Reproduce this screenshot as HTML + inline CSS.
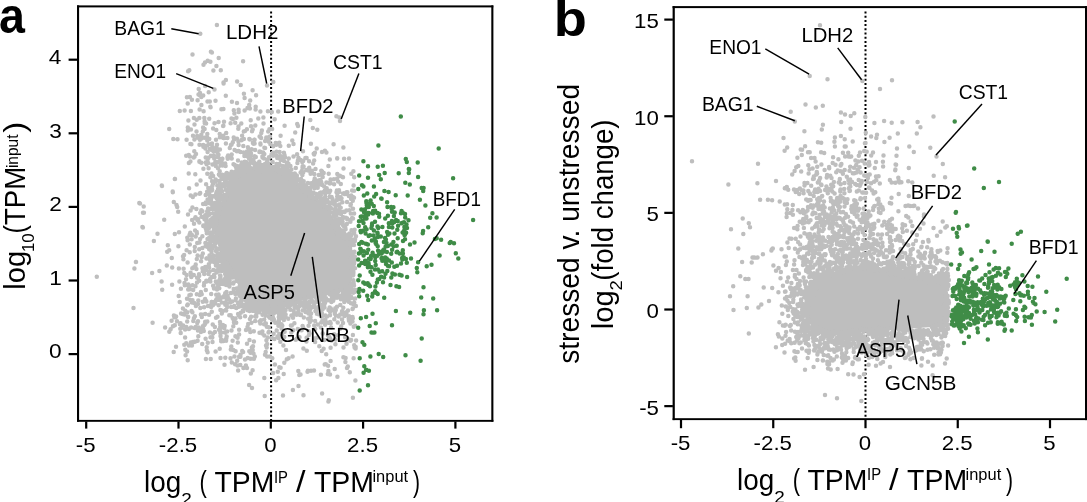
<!DOCTYPE html>
<html><head><meta charset="utf-8"><style>
html,body{margin:0;padding:0;background:#fff;}
svg{display:block;will-change:transform;}
text{font-family:"Liberation Sans", sans-serif;}
</style></head><body>
<svg width="1087" height="502" viewBox="0 0 1087 502">
<rect width="1087" height="502" fill="#fff"/>
<line x1="271.1" y1="11.5" x2="271.1" y2="420" stroke="#000" stroke-width="2" stroke-dasharray="2 2.2"/>
<line x1="865.5" y1="11.5" x2="865.5" y2="418" stroke="#000" stroke-width="2" stroke-dasharray="2 2.2"/>
<polygon points="213.0,230.0 215.0,217.0 219.0,205.0 225.0,195.0 229.0,182.0 235.0,175.0 250.0,167.0 264.0,169.0 274.0,165.0 282.0,171.0 296.0,181.0 306.0,191.0 318.0,199.0 328.0,207.0 333.0,218.0 338.0,232.0 352.0,240.0 352.0,280.0 350.0,289.0 342.0,291.0 330.0,294.0 310.0,299.0 290.0,303.0 280.0,308.0 266.0,308.0 254.0,303.0 246.0,296.0 239.0,286.0 229.0,271.0 221.0,255.0 217.0,242.0" fill="#bebebe"/>
<path d="M210.9 51.8h0M205.0 62.5h0M203.5 64.7h0M213.4 70.5h0M188.1 71.2h0M225.9 80.0h0M237.1 81.6h0M223.5 82.5h0M240.7 84.9h0M205.1 86.1h0M198.7 89.0h0M252.6 90.3h0M208.7 92.2h0M200.0 93.1h0M243.9 93.8h0M198.5 94.5h0M199.7 95.2h0M203.2 95.6h0M225.8 95.8h0M256.1 95.3h0M201.3 97.0h0M186.9 97.3h0M189.9 97.0h0M244.6 98.0h0M191.9 99.8h0M197.6 100.2h0M215.5 100.7h0M250.2 100.5h0M207.5 101.5h0M209.8 101.5h0M231.9 101.8h0M187.7 103.4h0M237.0 103.0h0M249.2 105.0h0M201.4 105.1h0M210.3 106.8h0M255.7 106.8h0M210.6 107.2h0M247.5 107.9h0M223.4 109.0h0M249.9 108.6h0M199.6 109.4h0M221.4 109.3h0M238.6 109.8h0M255.6 109.4h0M184.6 110.4h0M190.9 110.9h0M233.8 110.3h0M244.6 110.6h0M179.8 111.0h0M203.6 111.2h0M260.4 111.5h0M267.9 111.3h0M278.2 111.4h0M238.7 112.1h0M271.8 112.1h0M234.4 113.5h0M336.4 116.2h0M193.9 118.0h0M204.3 117.9h0M236.4 117.7h0M263.4 117.4h0M339.3 117.4h0M199.3 118.0h0M209.2 118.8h0M231.5 118.4h0M232.8 118.9h0M258.3 118.6h0M196.7 119.7h0M274.7 119.2h0M310.3 119.9h0M188.4 120.6h0M250.7 120.3h0M204.6 121.3h0M224.0 121.8h0M204.7 122.9h0M218.5 122.0h0M235.2 122.7h0M206.1 123.6h0M214.5 123.3h0M230.6 123.3h0M241.3 123.4h0M263.5 123.6h0M297.2 123.9h0M194.5 124.5h0M223.4 125.7h0M255.3 125.5h0M284.6 125.8h0M223.1 126.1h0M238.5 126.5h0M251.0 126.2h0M298.0 126.0h0M187.8 127.6h0M203.1 127.6h0M312.8 127.9h0M204.6 128.9h0M213.1 128.4h0M238.3 128.8h0M169.2 129.0h0M190.9 129.5h0M246.9 129.2h0M252.7 129.5h0M269.4 129.3h0M272.1 129.1h0M317.3 129.8h0M187.8 130.4h0M216.3 130.0h0M245.0 130.9h0M261.9 130.5h0M196.5 131.6h0M202.8 131.5h0M243.8 131.4h0M252.0 131.3h0M268.2 131.4h0M226.2 132.9h0M261.3 132.9h0M295.2 132.6h0M201.3 134.7h0M207.3 134.0h0M219.7 134.0h0M193.0 135.8h0M197.2 135.9h0M223.3 135.8h0M242.1 135.8h0M280.6 135.7h0M259.6 136.6h0M269.4 136.8h0M269.9 136.5h0M197.9 137.7h0M198.6 137.6h0M204.4 137.8h0M207.0 137.1h0M219.9 137.3h0M233.7 137.6h0M260.4 137.0h0M266.3 137.4h0M201.4 138.4h0M209.3 138.9h0M223.4 138.0h0M224.1 138.1h0M227.4 138.0h0M237.0 138.8h0M249.3 139.0h0M261.1 138.0h0M177.5 139.2h0M186.6 139.7h0M194.4 139.4h0M199.9 139.8h0M216.0 139.7h0M234.1 139.4h0M243.9 139.1h0M249.9 139.6h0M254.6 139.7h0M254.2 139.7h0M266.2 139.1h0M268.3 139.9h0M207.3 140.5h0M241.5 140.2h0M241.7 140.1h0M292.3 140.6h0M238.4 141.4h0M265.1 141.0h0M268.9 141.7h0M232.8 142.2h0M252.9 142.9h0M275.7 142.9h0M279.3 142.8h0M190.4 143.9h0M212.0 143.5h0M225.9 143.4h0M253.6 143.7h0M254.6 143.5h0M260.4 143.5h0M310.9 143.8h0M191.4 144.2h0M199.5 144.7h0M209.0 144.2h0M217.0 144.8h0M231.6 144.6h0M238.6 144.9h0M260.5 144.4h0M270.4 144.3h0M276.3 144.7h0M293.5 144.1h0M333.6 144.3h0M203.2 145.1h0M207.1 145.5h0M230.9 145.0h0M280.3 146.0h0M288.8 145.8h0M203.4 146.7h0M204.4 146.4h0M212.5 146.9h0M243.3 146.1h0M273.2 146.3h0M216.5 147.4h0M229.8 147.9h0M247.9 147.3h0M264.4 147.8h0M265.1 147.9h0M343.4 147.4h0M205.4 148.6h0M213.2 148.5h0M316.7 148.4h0M210.0 149.1h0M219.9 149.4h0M234.6 150.0h0M251.6 149.2h0M255.1 149.9h0M211.8 150.1h0M214.4 150.8h0M217.4 150.4h0M250.3 150.7h0M324.9 150.7h0M194.3 151.2h0M213.6 151.5h0M236.9 151.2h0M238.5 151.0h0M240.5 151.9h0M247.0 151.5h0M259.7 151.6h0M260.5 151.8h0M276.6 151.8h0M279.6 151.9h0M303.0 151.3h0M322.0 152.0h0M207.6 152.1h0M217.5 152.6h0M243.7 152.6h0M259.4 152.1h0M263.1 152.6h0M273.7 152.7h0M283.9 152.8h0M314.9 152.8h0M326.4 152.5h0M251.0 153.3h0M264.3 153.9h0M272.5 153.0h0M313.7 153.8h0M196.0 154.1h0M218.2 154.7h0M218.5 154.7h0M231.7 154.6h0M247.4 155.0h0M250.7 154.2h0M271.5 154.5h0M284.5 154.9h0M297.1 154.2h0M314.2 154.6h0M186.2 155.7h0M188.8 155.1h0M210.9 155.8h0M213.9 155.7h0M228.1 155.4h0M244.4 155.9h0M273.2 155.8h0M276.9 155.9h0M280.2 155.9h0M189.9 156.6h0M194.6 156.6h0M212.7 156.2h0M218.1 156.2h0M227.5 157.0h0M247.1 156.3h0M254.6 156.3h0M262.4 156.2h0M262.8 156.4h0M278.0 156.7h0M281.6 156.7h0M281.0 156.8h0M293.5 156.6h0M193.7 157.5h0M205.7 157.4h0M208.5 157.8h0M218.2 157.3h0M229.0 157.2h0M250.5 157.0h0M255.8 157.1h0M262.5 157.5h0M269.0 157.3h0M277.3 158.0h0M281.7 158.0h0M285.1 157.3h0M298.4 157.7h0M305.4 157.9h0M306.6 157.9h0M214.2 158.5h0M222.4 158.7h0M222.2 158.7h0M227.7 158.7h0M231.7 158.6h0M249.0 158.6h0M249.2 158.1h0M264.0 158.4h0M268.5 158.7h0M282.2 158.6h0M283.1 158.5h0M288.8 158.6h0M337.2 158.5h0M337.2 158.2h0M344.1 158.8h0M349.0 158.5h0M207.7 159.3h0M220.4 159.6h0M267.5 159.4h0M300.7 159.9h0M329.8 159.4h0M221.7 160.3h0M238.0 160.6h0M250.9 160.4h0M253.4 160.1h0M253.3 160.4h0M253.2 160.3h0M280.6 160.0h0M297.9 160.6h0M314.2 160.6h0M190.4 161.5h0M199.4 161.8h0M199.4 161.3h0M215.4 161.7h0M221.1 161.2h0M244.8 161.8h0M259.3 161.7h0M267.2 161.6h0M272.6 161.9h0M284.0 161.1h0M302.2 161.9h0M303.2 161.1h0M309.1 161.2h0M201.3 162.7h0M205.7 162.4h0M208.3 162.9h0M217.5 162.3h0M221.6 162.4h0M241.9 162.6h0M246.7 162.5h0M246.8 162.6h0M253.2 163.0h0M254.2 162.9h0M287.4 162.5h0M188.9 163.1h0M215.9 163.4h0M225.2 163.4h0M247.1 163.9h0M247.9 163.8h0M256.1 163.7h0M265.2 163.8h0M268.2 163.6h0M276.6 163.9h0M279.4 163.9h0M288.5 163.8h0M297.4 163.0h0M313.1 163.6h0M206.6 164.2h0M212.5 164.4h0M222.8 164.6h0M233.5 164.3h0M234.7 165.0h0M249.4 164.3h0M260.7 164.7h0M264.1 164.7h0M277.8 164.5h0M278.9 164.5h0M286.6 164.8h0M220.5 165.6h0M222.5 165.4h0M225.6 166.0h0M241.1 165.1h0M241.3 165.1h0M244.4 165.3h0M256.2 165.5h0M258.0 165.8h0M261.4 165.8h0M265.6 165.4h0M278.6 165.7h0M282.6 165.9h0M290.4 165.9h0M328.4 165.9h0M215.8 166.1h0M235.8 166.7h0M237.1 166.1h0M239.5 167.0h0M240.2 166.1h0M244.5 166.4h0M248.0 166.1h0M254.6 166.4h0M254.6 166.3h0M258.0 166.6h0M258.2 166.2h0M266.2 166.2h0M269.1 166.3h0M270.6 166.8h0M273.9 166.9h0M286.7 166.8h0M290.4 166.2h0M302.6 166.2h0M303.6 166.4h0M236.3 168.0h0M244.3 167.8h0M244.6 167.7h0M254.4 167.4h0M257.4 167.7h0M258.4 167.3h0M265.4 167.7h0M266.9 167.2h0M267.0 167.9h0M272.6 167.6h0M276.0 167.8h0M278.1 167.4h0M285.1 167.4h0M295.8 168.0h0M302.5 167.7h0M309.2 167.8h0M203.4 168.7h0M208.6 168.2h0M218.0 168.2h0M238.3 169.0h0M241.8 168.6h0M246.0 168.7h0M247.1 168.2h0M250.1 169.0h0M250.3 168.0h0M255.6 169.0h0M262.1 168.6h0M265.4 168.3h0M268.0 168.8h0M277.4 168.3h0M284.8 168.8h0M287.1 168.8h0M343.5 168.4h0M239.8 169.3h0M240.1 169.1h0M259.6 169.4h0M259.9 169.3h0M260.7 170.0h0M266.7 169.6h0M268.3 169.5h0M271.3 169.4h0M276.5 169.3h0M276.0 169.9h0M276.7 169.7h0M278.1 169.7h0M278.0 169.3h0M281.8 169.2h0M286.1 169.1h0M291.4 169.6h0M306.4 169.9h0M315.5 169.1h0M240.0 170.3h0M241.4 170.8h0M243.7 170.5h0M244.7 170.7h0M246.1 170.5h0M247.7 170.5h0M247.6 170.3h0M261.3 170.5h0M261.1 170.7h0M261.9 171.0h0M262.1 170.8h0M268.4 170.6h0M281.2 170.2h0M286.3 170.8h0M308.3 170.6h0M311.9 170.7h0M321.3 170.7h0M219.7 171.2h0M231.6 171.8h0M235.7 171.4h0M237.2 171.8h0M246.8 171.6h0M246.2 171.3h0M259.3 171.0h0M265.5 171.9h0M265.1 172.0h0M265.8 171.2h0M283.5 171.0h0M288.7 171.2h0M288.6 171.2h0M289.1 171.1h0M301.7 171.1h0M322.2 171.6h0M353.4 171.2h0M226.8 172.9h0M234.5 172.2h0M238.9 172.4h0M239.6 172.2h0M280.0 172.8h0M287.0 172.4h0M300.6 172.6h0M301.9 172.5h0M303.3 172.2h0M188.7 173.6h0M207.3 173.7h0M211.5 173.4h0M226.3 173.4h0M228.0 173.9h0M231.6 173.3h0M285.6 173.9h0M290.3 173.6h0M291.1 173.6h0M294.8 173.5h0M310.6 173.8h0M314.3 174.0h0M323.7 173.0h0M328.7 173.7h0M351.3 173.8h0M195.3 174.2h0M218.9 174.6h0M222.3 174.8h0M228.3 174.8h0M230.2 174.4h0M234.4 174.2h0M236.5 174.6h0M241.0 174.8h0M241.7 174.4h0M283.9 174.7h0M284.8 174.8h0M288.9 174.6h0M295.5 174.4h0M302.3 175.0h0M302.4 174.9h0M318.8 174.9h0M321.5 174.6h0M337.3 174.1h0M213.1 176.0h0M219.8 175.5h0M225.8 175.1h0M232.1 175.6h0M295.8 175.4h0M296.9 175.7h0M339.9 175.7h0M227.2 176.1h0M230.5 176.4h0M231.7 176.5h0M235.8 176.6h0M236.3 177.0h0M238.3 176.3h0M286.8 176.8h0M290.5 176.5h0M292.7 176.6h0M322.7 177.0h0M210.4 177.2h0M221.5 177.4h0M224.8 177.8h0M226.5 177.9h0M235.0 178.0h0M288.9 177.0h0M288.6 177.2h0M292.9 177.0h0M294.1 178.0h0M342.5 177.1h0M343.0 177.3h0M354.2 177.3h0M222.1 178.7h0M224.4 178.7h0M229.7 179.0h0M230.4 178.8h0M233.3 178.7h0M289.8 178.9h0M293.4 179.0h0M294.8 178.6h0M314.7 178.4h0M337.2 178.4h0M215.7 179.6h0M225.9 179.9h0M230.6 179.9h0M230.4 179.0h0M232.4 179.2h0M234.8 179.7h0M298.9 179.5h0M301.1 179.1h0M301.3 179.8h0M320.4 180.0h0M330.6 179.5h0M333.9 179.3h0M200.5 180.5h0M219.3 181.0h0M225.1 180.4h0M232.0 180.8h0M291.9 180.7h0M292.6 180.4h0M297.3 180.1h0M300.5 180.7h0M314.1 180.9h0M318.5 180.5h0M212.1 181.2h0M213.6 181.4h0M215.4 181.5h0M219.5 181.8h0M219.5 181.8h0M233.9 181.1h0M303.7 181.3h0M315.2 181.4h0M321.0 181.5h0M338.1 181.4h0M224.7 182.7h0M226.8 182.7h0M226.4 182.9h0M229.0 182.7h0M231.0 182.1h0M232.9 182.9h0M295.2 182.8h0M296.4 182.9h0M301.1 182.8h0M301.6 182.2h0M321.3 182.3h0M326.4 182.4h0M329.1 182.8h0M213.0 184.0h0M226.1 183.8h0M229.0 183.9h0M303.5 183.6h0M307.9 183.1h0M312.0 183.8h0M311.2 183.3h0M318.7 183.2h0M329.9 183.5h0M330.5 183.1h0M340.8 184.0h0M196.7 184.5h0M206.1 184.3h0M219.7 184.6h0M222.4 184.6h0M224.2 184.8h0M228.1 184.2h0M229.1 184.5h0M230.5 184.8h0M298.1 184.5h0M298.8 185.0h0M318.3 184.9h0M321.8 184.8h0M322.3 184.9h0M334.1 184.2h0M212.4 185.8h0M217.3 185.5h0M219.0 185.5h0M225.7 185.0h0M305.5 185.8h0M311.8 186.0h0M315.5 185.1h0M353.6 185.6h0M224.4 186.4h0M229.2 186.4h0M230.2 186.8h0M300.8 186.9h0M301.6 186.9h0M324.2 186.4h0M208.3 188.0h0M211.7 187.6h0M220.0 187.7h0M221.1 187.1h0M307.7 187.8h0M310.4 187.6h0M317.7 187.7h0M189.1 188.3h0M208.8 188.3h0M220.3 188.5h0M228.6 188.6h0M302.4 188.7h0M304.2 188.1h0M309.3 188.3h0M314.5 188.3h0M326.7 188.2h0M212.1 189.4h0M217.9 189.5h0M225.6 189.8h0M227.0 189.4h0M226.7 189.4h0M303.1 189.6h0M304.8 189.1h0M304.2 189.0h0M310.1 189.3h0M211.9 190.6h0M221.2 190.4h0M304.0 190.3h0M305.5 190.8h0M324.7 190.7h0M330.2 190.8h0M336.9 190.4h0M339.0 190.3h0M352.1 190.6h0M354.0 190.8h0M207.1 191.7h0M209.3 191.9h0M216.6 191.9h0M221.0 191.5h0M222.0 191.8h0M227.8 191.4h0M227.5 191.9h0M304.4 191.4h0M308.6 191.7h0M310.7 192.0h0M327.5 191.9h0M328.5 191.8h0M339.2 191.9h0M208.3 192.2h0M216.4 192.5h0M220.3 192.2h0M313.6 192.7h0M320.1 192.7h0M320.9 192.5h0M322.4 192.5h0M329.3 192.5h0M336.5 192.2h0M346.6 192.3h0M347.4 192.3h0M199.6 193.7h0M200.2 193.1h0M216.2 193.8h0M308.2 193.4h0M325.2 193.6h0M337.3 193.7h0M343.1 193.6h0M343.9 193.2h0M344.6 193.9h0M345.1 193.9h0M195.4 194.5h0M217.0 194.4h0M227.6 194.5h0M312.1 194.8h0M316.3 194.1h0M317.2 194.9h0M190.7 195.5h0M205.7 195.1h0M209.8 195.2h0M214.4 195.9h0M220.9 195.1h0M224.7 195.0h0M309.5 195.5h0M310.6 195.0h0M310.1 195.2h0M311.8 196.0h0M316.4 196.0h0M320.5 195.3h0M320.8 195.3h0M348.8 195.9h0M351.3 195.5h0M212.3 196.3h0M213.8 196.5h0M218.7 196.7h0M221.3 196.0h0M224.5 196.5h0M226.1 196.8h0M325.2 196.7h0M329.7 196.7h0M337.2 196.6h0M192.8 197.1h0M210.2 197.3h0M220.9 197.4h0M223.2 198.0h0M225.7 197.2h0M312.4 197.6h0M316.8 197.0h0M318.9 197.3h0M331.6 197.1h0M338.6 197.2h0M340.5 197.3h0M353.4 197.3h0M354.0 197.8h0M216.6 198.2h0M218.4 198.7h0M219.4 198.6h0M220.0 198.0h0M315.8 198.5h0M320.2 198.5h0M324.0 198.5h0M341.5 198.3h0M351.1 199.0h0M207.6 199.4h0M209.6 200.0h0M209.9 199.6h0M220.7 199.0h0M320.5 199.2h0M332.5 199.1h0M339.1 199.3h0M209.2 200.9h0M211.1 200.0h0M217.5 200.1h0M224.0 200.8h0M320.1 200.4h0M327.4 200.3h0M336.8 200.1h0M352.8 200.8h0M209.7 201.4h0M218.4 201.9h0M219.2 201.3h0M224.1 201.0h0M323.4 201.9h0M332.7 201.2h0M347.0 202.0h0M205.8 202.6h0M214.6 202.9h0M219.5 202.2h0M319.0 202.2h0M322.7 202.2h0M325.1 202.5h0M328.8 202.2h0M329.2 202.7h0M333.6 202.8h0M334.7 203.0h0M342.4 202.2h0M205.8 203.9h0M209.7 203.2h0M211.5 203.9h0M211.8 203.6h0M218.1 203.3h0M322.4 203.9h0M333.4 203.8h0M333.6 203.6h0M203.1 204.1h0M213.0 204.4h0M217.1 204.5h0M218.4 204.3h0M221.5 204.2h0M222.4 204.7h0M329.4 204.9h0M339.2 204.6h0M350.8 204.2h0M212.1 205.5h0M213.1 205.7h0M216.6 205.3h0M220.3 205.0h0M324.2 205.0h0M336.2 205.6h0M350.5 205.6h0M219.8 207.0h0M324.5 206.4h0M325.4 206.3h0M328.7 206.9h0M328.8 206.6h0M335.6 206.6h0M192.4 207.4h0M326.9 207.7h0M328.0 207.5h0M330.9 208.0h0M340.7 207.7h0M208.1 208.6h0M208.9 208.9h0M213.5 208.7h0M215.4 208.9h0M215.0 208.9h0M218.0 208.3h0M220.9 208.1h0M327.1 208.6h0M339.9 208.1h0M353.0 208.8h0M196.4 209.1h0M210.3 209.1h0M212.6 209.0h0M330.0 209.1h0M334.7 209.2h0M334.2 209.4h0M190.6 210.6h0M201.3 210.2h0M216.6 210.3h0M337.1 210.2h0M346.4 210.6h0M349.3 210.2h0M202.4 211.3h0M207.2 211.3h0M218.4 211.8h0M219.8 211.7h0M329.8 211.8h0M340.5 211.8h0M343.8 211.7h0M344.6 211.9h0M207.3 213.0h0M208.3 212.2h0M215.1 213.0h0M329.4 212.7h0M330.7 212.4h0M334.5 212.5h0M337.9 212.5h0M337.7 212.6h0M200.2 213.1h0M209.7 213.8h0M213.1 213.3h0M214.9 213.6h0M216.9 213.5h0M218.6 213.8h0M334.1 213.3h0M337.2 213.6h0M340.9 213.9h0M341.1 213.8h0M350.8 213.6h0M354.1 213.4h0M188.0 214.5h0M206.5 214.6h0M208.8 214.8h0M209.2 214.8h0M214.4 214.6h0M215.3 214.6h0M217.8 214.6h0M205.2 215.2h0M218.0 215.6h0M218.0 215.5h0M218.3 215.4h0M336.4 215.6h0M201.6 216.7h0M215.2 216.5h0M333.6 216.2h0M195.5 217.3h0M206.7 217.1h0M213.2 217.7h0M216.9 217.8h0M342.9 217.0h0M345.9 217.8h0M352.1 218.0h0M195.1 218.3h0M212.9 218.0h0M214.7 218.5h0M214.9 218.2h0M215.1 218.7h0M215.8 218.5h0M339.2 218.8h0M347.2 218.4h0M353.0 218.4h0M164.2 219.7h0M198.1 219.3h0M204.5 219.2h0M211.3 219.3h0M334.7 219.4h0M335.2 219.4h0M336.5 219.8h0M342.2 219.5h0M347.2 219.2h0M192.1 220.1h0M197.5 220.2h0M206.4 220.6h0M210.5 220.1h0M212.5 220.7h0M334.9 220.1h0M350.3 220.3h0M210.9 221.4h0M216.0 221.2h0M332.2 221.7h0M335.4 221.1h0M337.8 221.5h0M340.6 222.0h0M342.6 221.9h0M350.4 221.7h0M199.3 222.4h0M206.4 222.1h0M207.0 222.9h0M216.0 222.1h0M332.0 223.0h0M335.5 222.6h0M336.7 223.0h0M340.3 222.7h0M194.0 223.8h0M210.6 223.6h0M211.3 223.7h0M215.5 223.4h0M215.5 223.5h0M336.4 223.9h0M207.5 224.3h0M214.3 224.4h0M216.5 224.6h0M333.4 224.2h0M342.9 224.9h0M343.4 224.9h0M346.8 224.1h0M203.3 225.4h0M205.6 225.0h0M212.2 225.1h0M335.0 225.3h0M338.2 225.8h0M343.7 225.9h0M345.2 225.4h0M184.8 226.4h0M203.3 226.0h0M206.5 226.8h0M210.9 226.2h0M214.8 227.0h0M208.6 227.9h0M209.4 227.5h0M334.8 227.5h0M345.3 227.2h0M205.8 228.4h0M208.7 228.6h0M336.5 228.2h0M339.3 228.7h0M213.9 229.6h0M345.6 229.3h0M354.6 229.7h0M195.1 230.6h0M206.3 230.6h0M337.1 230.3h0M338.0 230.5h0M340.7 230.8h0M341.6 230.5h0M342.8 230.6h0M342.5 230.9h0M351.5 230.2h0M196.7 231.9h0M340.4 231.3h0M190.3 232.7h0M208.6 232.9h0M211.0 232.5h0M213.7 232.2h0M339.7 232.3h0M340.6 232.5h0M340.9 232.7h0M340.1 232.7h0M344.0 232.9h0M354.2 232.9h0M196.9 233.4h0M206.8 233.3h0M337.1 233.3h0M342.4 233.6h0M349.6 233.5h0M189.6 234.7h0M339.3 234.3h0M348.1 234.6h0M351.3 234.8h0M191.9 235.1h0M340.6 235.7h0M346.9 235.7h0M351.4 235.1h0M195.7 236.4h0M202.4 236.2h0M210.8 236.3h0M213.0 236.1h0M344.0 236.1h0M346.4 236.9h0M356.0 236.3h0M187.3 237.7h0M209.2 237.8h0M214.6 237.4h0M214.1 237.1h0M214.4 237.5h0M342.0 237.5h0M345.2 237.5h0M346.3 237.3h0M346.9 237.6h0M349.2 237.7h0M207.5 238.9h0M211.6 238.4h0M217.3 238.5h0M345.5 238.2h0M348.1 238.4h0M350.1 238.6h0M355.1 239.0h0M191.6 239.2h0M200.1 239.1h0M208.4 239.5h0M212.1 239.3h0M351.3 239.3h0M187.6 240.2h0M216.9 240.6h0M218.7 240.7h0M351.5 240.4h0M353.5 240.2h0M212.1 241.2h0M215.9 241.2h0M219.5 242.0h0M351.8 241.9h0M354.9 241.0h0M197.2 242.9h0M199.4 242.6h0M210.3 242.7h0M210.5 242.4h0M210.5 242.6h0M351.5 242.3h0M205.4 243.1h0M210.6 243.2h0M215.6 243.2h0M219.9 243.5h0M352.6 243.2h0M353.2 243.3h0M353.0 243.9h0M189.8 244.6h0M208.5 244.0h0M210.2 244.7h0M214.9 244.6h0M350.9 244.6h0M354.0 244.9h0M205.6 246.0h0M207.4 245.6h0M210.7 245.0h0M350.6 245.7h0M207.0 246.7h0M209.8 246.4h0M214.5 246.3h0M194.8 247.1h0M202.4 248.1h0M212.0 248.7h0M212.4 248.5h0M216.9 248.6h0M218.7 248.9h0M218.5 248.9h0M221.7 248.8h0M350.1 248.9h0M199.2 249.3h0M209.2 249.2h0M169.2 250.2h0M186.6 250.2h0M194.7 250.9h0M211.5 251.7h0M216.0 251.1h0M350.7 251.5h0M354.4 251.7h0M189.7 252.2h0M222.2 252.5h0M354.0 252.3h0M202.8 253.5h0M217.5 253.6h0M219.8 253.5h0M220.8 253.7h0M221.9 253.3h0M350.7 253.3h0M217.5 254.3h0M218.5 254.3h0M184.1 255.1h0M197.6 255.6h0M209.5 255.6h0M213.3 255.4h0M351.1 255.3h0M183.0 256.3h0M201.8 256.1h0M217.1 256.8h0M351.8 256.1h0M351.8 256.8h0M353.2 256.6h0M354.8 256.6h0M171.8 258.0h0M201.7 257.3h0M209.3 257.2h0M209.6 257.3h0M212.9 257.6h0M219.5 257.2h0M220.2 257.0h0M222.5 257.3h0M351.5 257.3h0M206.6 258.6h0M206.4 258.6h0M209.9 258.4h0M217.9 258.8h0M220.0 258.4h0M352.2 258.5h0M352.0 258.5h0M183.4 259.3h0M196.8 259.1h0M209.7 259.7h0M214.0 259.8h0M350.4 259.0h0M354.6 259.9h0M220.5 260.7h0M221.9 260.7h0M222.6 260.2h0M201.1 261.3h0M210.7 261.7h0M217.5 261.2h0M218.8 261.1h0M353.7 262.0h0M187.6 262.6h0M214.3 262.3h0M215.8 262.3h0M217.1 262.3h0M224.2 262.2h0M225.9 262.2h0M226.1 262.2h0M354.2 262.0h0M354.1 263.4h0M195.7 264.4h0M208.8 264.2h0M223.7 264.2h0M227.1 264.1h0M208.7 265.5h0M215.9 265.6h0M219.4 265.8h0M222.2 265.1h0M227.0 265.3h0M351.6 265.6h0M353.3 265.7h0M195.3 266.4h0M222.1 266.2h0M225.8 266.0h0M226.9 266.8h0M226.5 266.2h0M226.5 266.3h0M228.8 266.9h0M193.3 267.6h0M205.2 267.0h0M209.1 267.5h0M220.0 267.6h0M227.4 267.7h0M178.9 268.4h0M183.6 268.7h0M192.3 268.2h0M202.4 268.2h0M225.8 268.1h0M225.1 268.6h0M227.9 268.5h0M227.9 268.7h0M229.7 268.5h0M352.6 268.8h0M355.0 268.2h0M196.4 269.1h0M213.3 269.9h0M218.2 269.3h0M223.2 269.7h0M224.5 269.7h0M230.4 269.8h0M205.9 270.3h0M216.5 270.4h0M221.6 271.0h0M221.7 270.4h0M228.8 270.7h0M352.3 270.1h0M159.4 271.1h0M202.7 271.2h0M209.6 271.6h0M218.1 271.2h0M226.7 271.6h0M231.9 271.9h0M231.2 271.4h0M351.3 271.4h0M353.4 272.0h0M184.3 273.0h0M190.6 272.7h0M216.5 272.5h0M231.4 272.5h0M231.7 273.0h0M152.1 273.0h0M233.9 273.4h0M351.2 273.6h0M351.5 273.9h0M353.4 273.1h0M199.0 274.3h0M204.2 274.1h0M208.5 274.0h0M225.1 274.1h0M229.0 274.9h0M231.0 274.8h0M351.7 274.5h0M186.6 275.0h0M191.0 276.0h0M193.8 275.1h0M199.2 275.8h0M214.0 275.0h0M220.5 275.9h0M220.1 275.4h0M226.5 275.7h0M226.5 275.8h0M229.2 275.8h0M234.7 275.8h0M352.8 275.6h0M353.3 275.1h0M191.3 276.9h0M226.1 276.8h0M232.1 276.8h0M197.1 277.7h0M197.7 277.4h0M198.2 277.6h0M211.9 277.0h0M214.4 277.1h0M220.4 277.6h0M227.9 278.0h0M228.7 277.1h0M232.8 277.5h0M210.7 278.2h0M225.2 278.2h0M226.7 278.9h0M186.0 279.3h0M209.9 279.3h0M219.9 279.0h0M220.9 279.7h0M224.8 279.5h0M199.2 280.7h0M206.3 280.7h0M219.2 280.7h0M226.1 280.2h0M229.6 280.6h0M236.6 280.7h0M353.3 280.3h0M161.6 281.4h0M179.4 281.6h0M206.6 281.5h0M210.4 281.5h0M215.8 281.6h0M224.7 281.4h0M197.0 282.4h0M204.2 282.9h0M216.4 282.8h0M218.4 282.1h0M220.9 282.8h0M227.5 283.0h0M228.6 282.5h0M233.7 282.5h0M353.6 282.0h0M184.5 283.0h0M220.6 283.6h0M221.2 283.7h0M223.2 284.0h0M226.9 283.0h0M229.9 283.8h0M233.3 283.4h0M353.7 283.7h0M172.1 284.7h0M188.4 284.5h0M226.1 285.0h0M228.2 284.5h0M351.1 284.3h0M184.8 285.3h0M188.5 285.5h0M189.5 286.0h0M192.6 285.2h0M203.9 285.6h0M213.1 285.7h0M218.2 285.8h0M239.7 286.0h0M353.1 285.4h0M354.0 285.6h0M195.5 286.2h0M217.4 286.9h0M229.4 286.5h0M241.7 286.2h0M239.8 287.1h0M240.2 287.5h0M180.9 288.8h0M214.0 288.4h0M216.2 288.6h0M219.3 288.2h0M236.7 288.4h0M238.3 288.7h0M347.5 288.8h0M350.7 288.1h0M162.2 289.7h0M188.2 289.6h0M189.9 289.3h0M193.2 290.0h0M217.0 289.5h0M233.7 289.0h0M240.1 289.9h0M341.0 289.2h0M352.1 289.9h0M354.4 290.0h0M355.8 289.9h0M205.8 290.0h0M237.6 290.2h0M243.4 290.9h0M337.2 290.2h0M348.2 290.6h0M350.4 290.3h0M350.8 290.9h0M351.3 290.4h0M351.2 290.4h0M200.9 292.0h0M237.6 291.4h0M238.2 291.1h0M241.5 291.4h0M334.8 291.4h0M338.2 291.3h0M342.5 291.4h0M344.9 291.8h0M347.5 292.0h0M351.7 291.4h0M226.5 292.0h0M232.9 292.5h0M234.2 292.8h0M238.6 292.2h0M240.9 292.2h0M244.9 292.9h0M328.0 292.7h0M333.3 292.1h0M337.6 292.4h0M345.3 292.1h0M353.2 292.8h0M354.6 292.1h0M211.2 293.9h0M225.2 293.2h0M230.9 293.1h0M325.5 293.8h0M325.4 293.7h0M328.6 293.3h0M330.2 293.6h0M334.4 293.0h0M335.5 293.0h0M336.7 293.5h0M344.3 293.5h0M190.8 294.8h0M196.8 294.2h0M199.8 294.9h0M201.7 294.2h0M216.2 294.7h0M218.6 294.5h0M235.4 294.0h0M239.1 294.3h0M241.7 294.8h0M242.2 294.4h0M243.5 294.2h0M243.9 294.1h0M243.8 294.3h0M319.7 294.1h0M321.4 294.8h0M322.5 294.4h0M329.8 294.2h0M329.9 294.6h0M342.4 294.9h0M345.5 294.7h0M349.4 295.0h0M178.7 296.0h0M189.4 295.3h0M225.5 295.3h0M227.6 295.8h0M239.5 295.3h0M240.3 295.0h0M244.0 295.7h0M321.2 295.4h0M324.7 295.6h0M332.1 295.1h0M335.9 295.3h0M338.8 295.5h0M224.1 296.1h0M240.2 296.6h0M241.4 296.2h0M249.9 296.6h0M315.1 296.5h0M316.4 296.7h0M316.1 296.4h0M319.6 296.7h0M320.2 296.3h0M323.9 296.7h0M334.6 296.7h0M341.5 296.9h0M346.1 296.6h0M217.6 297.6h0M221.4 297.6h0M223.1 297.3h0M228.0 297.7h0M243.1 297.4h0M245.6 297.4h0M250.7 297.5h0M308.5 297.2h0M332.0 297.8h0M332.7 297.8h0M337.0 297.7h0M341.7 297.8h0M349.8 297.4h0M350.4 297.3h0M351.3 297.1h0M187.0 298.7h0M205.1 299.0h0M220.3 298.8h0M226.7 298.9h0M235.9 298.4h0M242.3 298.7h0M243.4 298.6h0M246.8 298.8h0M304.6 298.8h0M305.4 298.9h0M316.3 298.4h0M321.7 298.5h0M321.5 298.8h0M326.0 298.3h0M342.8 298.3h0M345.2 298.9h0M350.6 298.2h0M354.4 298.8h0M355.2 298.6h0M190.3 300.0h0M216.5 299.2h0M219.2 299.7h0M229.2 299.5h0M243.9 299.5h0M248.4 299.9h0M248.3 299.7h0M299.0 299.8h0M298.2 299.2h0M298.8 299.8h0M305.4 299.6h0M311.7 299.9h0M317.9 299.6h0M325.7 299.5h0M333.4 299.8h0M340.9 299.3h0M192.5 300.2h0M198.3 300.6h0M206.1 301.0h0M215.8 300.5h0M217.1 300.1h0M235.6 300.2h0M241.6 300.1h0M246.0 300.8h0M248.1 300.1h0M248.2 300.5h0M291.3 300.4h0M292.3 300.5h0M299.7 300.8h0M325.6 300.6h0M328.8 300.3h0M333.2 300.7h0M333.2 300.2h0M348.1 300.1h0M202.8 301.7h0M206.4 301.5h0M211.9 301.9h0M232.2 301.5h0M240.4 301.3h0M241.3 301.2h0M249.9 301.5h0M253.0 301.5h0M253.2 301.4h0M254.2 301.6h0M303.8 301.9h0M309.4 301.8h0M310.5 301.8h0M312.3 301.5h0M317.2 301.8h0M319.2 301.5h0M323.8 301.2h0M325.1 301.0h0M331.4 301.9h0M348.7 301.7h0M179.7 302.1h0M191.9 302.4h0M194.2 303.0h0M211.6 302.1h0M214.2 302.1h0M221.9 302.6h0M225.7 302.3h0M230.2 302.4h0M246.7 302.4h0M247.4 302.9h0M250.6 302.9h0M253.7 302.8h0M255.8 302.3h0M292.8 302.4h0M296.8 302.5h0M299.7 302.4h0M300.1 302.9h0M300.2 302.6h0M308.6 302.8h0M314.3 302.4h0M319.3 302.1h0M325.2 302.6h0M344.3 302.1h0M354.3 302.7h0M211.5 303.7h0M215.2 303.6h0M226.9 303.8h0M238.1 303.4h0M238.9 303.1h0M249.1 303.7h0M252.2 303.2h0M254.4 303.5h0M257.2 303.8h0M257.0 304.0h0M285.7 303.1h0M307.3 303.4h0M308.7 303.6h0M309.6 303.5h0M314.4 303.4h0M324.7 303.7h0M350.9 303.2h0M353.2 303.9h0M187.8 304.6h0M198.0 304.1h0M225.3 304.8h0M240.4 304.0h0M241.6 304.3h0M246.9 304.1h0M254.2 304.8h0M254.8 304.2h0M258.7 304.6h0M259.1 304.3h0M259.4 304.4h0M262.6 304.9h0M263.9 304.3h0M285.6 304.6h0M286.1 304.5h0M288.6 304.2h0M291.4 304.7h0M293.5 304.8h0M301.7 304.6h0M302.7 304.2h0M314.2 304.4h0M340.3 304.9h0M187.2 305.3h0M195.9 306.0h0M212.9 305.2h0M218.6 305.2h0M243.7 305.0h0M247.0 305.1h0M246.9 305.1h0M248.2 305.0h0M258.7 305.2h0M258.1 305.2h0M263.0 305.1h0M263.4 305.1h0M264.0 305.4h0M289.9 305.7h0M295.4 305.3h0M303.2 305.4h0M304.9 306.0h0M309.2 305.5h0M321.3 305.1h0M355.9 305.9h0M208.0 306.1h0M231.1 307.0h0M234.3 306.0h0M238.9 306.7h0M241.0 306.0h0M244.8 306.2h0M250.7 306.6h0M250.1 306.4h0M253.8 306.9h0M255.3 306.3h0M260.0 306.3h0M259.6 306.6h0M266.0 306.3h0M267.5 306.2h0M279.3 306.7h0M281.0 306.7h0M287.3 306.2h0M289.4 306.9h0M295.5 306.4h0M299.6 306.1h0M303.6 306.1h0M307.6 306.3h0M318.8 306.7h0M318.3 306.7h0M319.2 306.8h0M322.9 306.7h0M323.9 306.5h0M337.0 306.7h0M200.3 307.9h0M204.1 307.2h0M211.1 307.1h0M227.2 307.1h0M234.3 307.1h0M236.3 308.0h0M244.2 307.2h0M253.7 307.3h0M255.1 308.0h0M261.7 307.3h0M265.7 307.6h0M268.1 307.1h0M273.6 307.7h0M282.5 307.2h0M283.1 307.1h0M288.9 307.1h0M294.6 307.7h0M305.2 307.0h0M309.7 307.1h0M312.2 307.1h0M319.8 307.5h0M323.5 307.4h0M323.1 307.1h0M324.5 307.4h0M329.6 307.4h0M343.3 307.8h0M182.9 308.5h0M246.8 308.6h0M257.7 308.1h0M263.1 308.6h0M268.8 308.3h0M272.9 308.4h0M274.2 308.5h0M276.1 308.2h0M279.6 308.9h0M281.2 308.9h0M298.2 308.8h0M304.9 308.2h0M310.5 308.7h0M315.9 308.3h0M316.2 308.7h0M322.8 308.9h0M330.8 308.5h0M335.3 308.3h0M352.5 308.9h0M352.8 308.4h0M220.4 309.9h0M225.8 309.9h0M247.6 309.5h0M252.8 309.4h0M252.7 309.2h0M253.1 309.4h0M261.9 309.2h0M266.4 309.1h0M269.4 309.9h0M270.6 309.9h0M274.8 309.3h0M283.5 309.4h0M283.7 309.4h0M285.6 310.0h0M290.3 309.8h0M309.9 310.0h0M309.1 309.2h0M321.1 310.0h0M328.5 310.0h0M329.1 309.5h0M185.3 310.8h0M191.5 310.9h0M221.8 310.7h0M222.8 310.9h0M226.2 310.5h0M242.8 310.6h0M247.7 310.2h0M250.4 310.2h0M252.5 310.7h0M254.1 310.8h0M257.5 311.0h0M259.8 310.5h0M265.0 310.2h0M274.8 310.7h0M275.9 310.4h0M275.9 310.0h0M281.0 310.5h0M293.6 310.8h0M302.9 310.2h0M315.4 311.0h0M331.7 310.4h0M335.8 310.1h0M348.0 310.4h0M211.8 311.8h0M243.2 311.3h0M249.6 311.0h0M258.4 311.9h0M270.2 311.2h0M272.9 311.3h0M278.8 311.2h0M282.7 311.5h0M284.7 311.8h0M298.4 311.2h0M305.6 312.0h0M307.9 311.4h0M318.5 311.4h0M320.0 311.6h0M320.9 311.1h0M330.0 311.8h0M335.0 311.8h0M342.0 311.2h0M187.2 312.3h0M192.4 312.3h0M240.8 312.8h0M256.5 312.2h0M259.2 312.2h0M265.3 312.6h0M268.6 312.4h0M274.7 312.5h0M276.2 312.1h0M321.9 312.9h0M345.3 312.6h0M346.6 312.7h0M181.1 313.5h0M221.8 313.4h0M263.7 313.1h0M271.3 313.3h0M273.7 313.4h0M294.0 313.7h0M296.5 313.3h0M308.5 313.4h0M310.7 313.3h0M311.1 313.4h0M316.9 313.7h0M334.8 313.8h0M182.5 314.1h0M184.4 314.5h0M200.9 314.4h0M202.2 314.7h0M205.2 314.0h0M209.1 314.8h0M238.1 314.0h0M256.2 314.9h0M262.5 314.8h0M279.1 314.2h0M285.6 314.6h0M296.6 314.7h0M300.2 315.0h0M300.9 314.5h0M318.4 314.3h0M340.2 314.6h0M342.0 314.3h0M346.2 314.9h0M173.9 315.5h0M229.3 315.3h0M230.7 315.2h0M238.5 315.3h0M265.7 315.5h0M279.8 315.2h0M281.7 315.4h0M285.0 315.6h0M291.4 315.5h0M325.4 315.4h0M330.0 315.2h0M335.9 315.5h0M175.7 316.9h0M176.1 316.4h0M187.9 316.7h0M194.9 316.3h0M201.8 316.9h0M217.5 316.7h0M245.1 316.3h0M251.1 316.8h0M255.2 316.6h0M256.3 316.6h0M268.7 316.6h0M278.8 316.9h0M280.2 316.2h0M285.6 316.8h0M321.8 316.8h0M327.0 316.5h0M338.7 316.5h0M344.6 316.1h0M349.4 316.8h0M349.1 316.2h0M174.4 317.2h0M188.2 317.0h0M216.0 317.8h0M240.2 317.2h0M269.8 317.7h0M273.0 317.5h0M293.0 317.7h0M303.8 317.5h0M310.5 317.2h0M352.5 317.1h0M193.9 318.3h0M232.6 318.1h0M235.5 318.5h0M249.9 319.0h0M281.9 318.3h0M288.3 318.8h0M308.1 318.7h0M309.8 318.6h0M348.7 318.7h0M352.4 318.2h0M352.8 318.2h0M264.2 319.4h0M272.1 319.8h0M273.9 319.4h0M325.3 319.7h0M334.3 319.2h0M342.0 319.6h0M171.6 320.8h0M193.3 320.9h0M233.7 320.0h0M234.1 320.4h0M260.9 320.3h0M273.6 320.3h0M278.7 320.4h0M283.9 320.1h0M311.0 320.4h0M325.5 321.0h0M349.0 320.7h0M177.0 321.2h0M187.2 321.4h0M198.0 321.2h0M205.3 321.8h0M207.3 321.5h0M255.2 321.0h0M259.6 321.6h0M278.9 321.3h0M309.8 321.9h0M315.1 321.0h0M322.2 321.1h0M352.5 321.5h0M205.1 322.0h0M220.0 322.1h0M234.0 322.6h0M236.2 322.7h0M251.4 322.7h0M275.3 322.7h0M277.8 322.2h0M321.3 322.4h0M328.4 322.8h0M330.1 322.0h0M337.7 322.6h0M180.5 323.3h0M197.3 323.1h0M205.2 323.8h0M260.3 323.5h0M265.9 323.5h0M294.4 323.3h0M330.7 323.2h0M343.0 323.1h0M350.4 323.5h0M179.9 324.2h0M204.3 325.0h0M212.7 324.5h0M220.3 324.4h0M248.2 324.0h0M264.1 324.3h0M281.5 324.2h0M317.8 324.5h0M325.1 324.8h0M174.8 325.2h0M183.2 325.4h0M222.9 325.1h0M278.4 325.7h0M282.3 325.8h0M290.9 325.4h0M291.8 325.4h0M302.6 325.9h0M308.6 325.7h0M314.2 325.4h0M355.1 325.7h0M172.9 326.3h0M186.3 326.9h0M202.8 326.2h0M214.9 327.0h0M223.7 326.8h0M224.7 326.0h0M233.3 326.3h0M266.8 326.8h0M341.2 326.3h0M353.8 326.7h0M165.1 327.5h0M181.7 327.7h0M191.1 327.6h0M194.6 327.9h0M195.6 327.0h0M198.5 327.6h0M220.2 327.0h0M221.7 327.3h0M224.3 327.9h0M247.5 327.1h0M268.7 327.3h0M303.3 328.0h0M320.9 327.6h0M331.1 327.5h0M180.3 328.7h0M188.9 328.9h0M202.4 328.3h0M202.6 328.2h0M203.1 328.4h0M281.6 328.6h0M297.8 328.9h0M315.2 329.0h0M340.1 328.7h0M170.6 329.2h0M185.1 329.4h0M219.0 329.7h0M239.1 329.8h0M249.5 329.2h0M197.9 330.4h0M201.2 330.8h0M220.0 330.8h0M231.5 330.4h0M246.0 330.0h0M276.7 330.5h0M293.2 330.3h0M299.8 330.1h0M301.6 330.3h0M169.3 331.7h0M200.9 331.9h0M203.8 331.0h0M227.1 331.5h0M253.8 331.3h0M262.4 331.5h0M268.8 332.0h0M269.1 331.9h0M284.6 331.8h0M308.8 331.2h0M209.9 332.6h0M214.9 332.1h0M220.4 332.8h0M221.3 332.5h0M224.9 332.4h0M250.3 332.1h0M259.5 332.8h0M268.5 332.4h0M291.3 332.5h0M180.7 333.0h0M213.1 333.4h0M220.4 333.3h0M262.3 333.5h0M273.6 333.8h0M309.5 333.5h0M322.7 333.5h0M239.1 334.5h0M279.3 334.1h0M282.1 334.8h0M334.1 334.2h0M220.5 335.9h0M264.3 335.5h0M308.9 335.1h0M327.9 335.2h0M337.9 335.2h0M198.3 336.2h0M226.7 336.5h0M235.4 336.3h0M277.5 336.6h0M284.3 336.9h0M329.0 336.8h0M185.1 337.4h0M210.5 337.2h0M212.3 337.6h0M237.2 337.5h0M237.6 337.7h0M267.8 337.5h0M299.5 337.2h0M306.6 337.7h0M317.2 337.6h0M345.1 337.2h0M205.6 338.7h0M226.3 338.6h0M271.9 338.1h0M278.6 338.1h0M296.7 338.7h0M314.5 338.5h0M329.8 338.1h0M221.1 339.6h0M225.7 339.4h0M274.4 339.0h0M295.8 339.7h0M335.6 339.6h0M348.8 339.5h0M197.6 340.7h0M223.5 341.0h0M224.4 340.7h0M226.1 340.7h0M232.6 340.8h0M249.5 340.0h0M266.4 340.2h0M324.5 340.1h0M331.4 340.4h0M350.3 340.8h0M351.1 340.1h0M192.9 342.0h0M194.9 341.7h0M221.2 341.3h0M253.9 341.6h0M280.3 341.7h0M306.4 341.5h0M315.1 341.9h0M190.8 342.4h0M191.7 342.7h0M194.0 342.1h0M207.8 342.7h0M212.5 342.1h0M237.8 342.6h0M186.2 343.3h0M247.0 343.7h0M346.5 343.8h0M184.3 344.7h0M202.2 344.0h0M267.2 344.1h0M335.4 344.2h0M188.9 345.4h0M191.9 345.5h0M266.0 345.6h0M283.4 345.4h0M354.2 345.2h0M176.0 346.7h0M231.3 346.6h0M253.0 346.3h0M319.3 346.3h0M355.7 346.9h0M206.7 347.2h0M251.8 347.5h0M266.7 347.5h0M330.6 347.7h0M343.5 347.6h0M354.6 347.6h0M219.7 348.7h0M303.4 348.6h0M323.6 348.8h0M355.6 348.4h0M185.3 349.8h0M230.8 349.6h0M233.3 349.9h0M286.0 349.9h0M206.8 350.3h0M252.7 350.1h0M306.8 350.7h0M187.1 351.6h0M215.6 351.6h0M235.6 351.3h0M242.2 351.1h0M243.1 351.9h0M249.3 351.3h0M321.7 351.0h0M173.7 352.0h0M207.6 352.2h0M250.5 352.7h0M265.7 352.1h0M253.5 353.5h0M240.5 354.7h0M265.0 354.8h0M326.2 354.3h0M185.6 355.2h0M234.5 356.5h0M239.1 356.7h0M240.4 356.8h0M254.8 356.6h0M267.1 356.5h0M269.9 356.4h0M292.6 356.6h0M220.5 358.0h0M225.3 357.8h0M343.4 357.2h0M230.5 358.2h0M247.7 358.0h0M250.6 358.8h0M253.9 358.8h0M272.3 358.2h0M288.5 358.2h0M345.6 358.1h0M205.9 359.1h0M210.7 359.1h0M245.0 359.4h0M286.8 359.2h0M187.7 360.3h0M237.2 360.7h0M330.6 361.0h0M231.8 362.5h0M284.3 362.7h0M345.4 362.1h0M224.5 364.8h0M235.1 364.2h0M240.3 364.9h0M274.9 364.5h0M324.7 364.6h0M325.8 364.2h0M237.6 365.5h0M245.9 365.5h0M328.1 365.7h0M347.8 366.4h0M247.0 368.0h0M279.3 367.2h0M280.6 367.8h0M243.4 368.0h0M334.7 368.9h0M347.0 368.1h0M238.1 370.4h0M252.6 370.3h0M307.9 370.7h0M311.0 370.8h0M314.0 370.4h0M277.8 371.8h0M298.3 371.0h0M307.5 371.7h0M328.4 371.1h0M273.1 372.9h0M349.8 372.3h0M250.8 373.6h0M283.7 373.9h0M299.3 375.0h0M300.5 374.5h0M320.9 374.8h0M327.8 374.0h0M330.0 374.6h0M337.4 376.7h0M278.4 378.0h0M264.3 378.1h0M276.1 380.2h0M249.1 385.1h0M298.5 386.0h0M292.9 389.9h0M322.1 393.4h0M303.5 395.3h0M264.7 396.1h0M328.8 400.2h0M96.8 276.8h0M200.3 33.7h0M216.9 25.0h0M211.9 52.5h0M192.5 54.4h0M218.7 58.1h0M207.7 60.8h0M210.4 61.8h0M216.4 66.0h0M243.1 61.3h0M220.8 70.2h0M189.3 70.2h0M214.5 89.5h0M223.6 83.6h0M267.0 85.5h0M273.3 81.9h0M340.0 121.0h0M173.3 139.0h0M162.0 186.0h0M175.0 179.0h0M140.0 203.4h0M143.7 206.6h0M172.7 191.6h0M176.5 205.0h0M133.5 308.0h0M134.4 268.5h0M136.0 262.0h0M142.4 227.0h0M143.0 212.7h0M152.6 322.7h0M328.4 401.6h0M283.0 395.6h0M252.0 388.0h0M174.8 179.0h0M161.8 185.5h0M172.8 192.3h0M139.3 202.9h0M143.9 212.8h0M173.8 201.9h0M177.2 206.9h0M178.2 211.8h0M142.9 227.4h0M157.5 233.7h0M153.9 241.1h0M174.8 234.1h0M179.0 232.2h0M167.8 245.3h0M167.2 251.7h0M178.4 246.3h0M135.9 262.0h0M166.8 265.6h0M172.2 267.6h0M352.9 335.0h0M356.1 340.4h0M353.6 358.3h0M355.4 380.6h0M352.9 397.8h0" stroke="#bebebe" stroke-width="4.50" stroke-linecap="round" fill="none"/>
<path d="M405.8 159.1h0M417.7 162.5h0M377.7 166.7h0M408.8 169.1h0M384.7 173.0h0M408.8 173.1h0M379.2 175.0h0M359.2 175.6h0M363.4 186.5h0M423.6 188.1h0M358.3 189.1h0M388.6 192.0h0M367.3 193.6h0M376.1 194.0h0M363.8 195.4h0M395.7 195.2h0M407.7 195.5h0M374.2 196.6h0M381.2 198.5h0M381.6 198.8h0M419.9 199.7h0M370.6 200.6h0M366.3 201.2h0M366.4 202.5h0M387.1 202.3h0M366.5 203.3h0M367.1 203.9h0M370.4 203.2h0M371.7 203.8h0M366.8 205.5h0M368.5 205.3h0M425.4 205.4h0M373.8 206.0h0M387.5 206.9h0M368.8 207.0h0M391.2 207.1h0M393.4 207.3h0M391.7 209.0h0M361.4 209.4h0M365.1 209.3h0M373.1 210.9h0M375.2 210.7h0M401.6 210.9h0M392.0 211.8h0M364.1 212.5h0M367.8 212.9h0M368.9 213.0h0M373.0 212.4h0M373.1 212.7h0M394.7 212.5h0M402.6 212.6h0M372.9 213.5h0M377.2 213.1h0M379.0 213.7h0M401.0 213.3h0M405.0 213.9h0M432.4 213.2h0M368.1 214.6h0M387.9 215.8h0M393.9 215.9h0M360.7 216.8h0M361.7 216.6h0M365.6 216.1h0M379.2 216.7h0M405.2 217.5h0M430.2 217.8h0M365.6 218.0h0M365.3 218.6h0M366.5 218.5h0M366.2 218.6h0M385.2 218.6h0M396.1 219.9h0M362.3 220.7h0M391.9 220.9h0M397.7 220.9h0M408.5 220.2h0M359.0 221.2h0M375.0 221.8h0M363.5 222.9h0M394.0 222.3h0M401.9 223.0h0M404.0 222.3h0M372.1 223.4h0M388.8 223.2h0M392.3 223.3h0M401.6 223.2h0M406.5 224.5h0M371.9 225.5h0M398.1 225.7h0M358.7 226.1h0M377.5 226.4h0M404.4 226.9h0M365.2 227.2h0M378.0 227.4h0M378.2 227.9h0M378.1 227.4h0M382.4 227.1h0M388.9 227.1h0M392.3 227.5h0M407.0 228.0h0M428.2 227.2h0M371.4 228.1h0M366.6 229.2h0M397.3 229.7h0M362.7 230.7h0M373.9 230.6h0M404.2 230.5h0M423.1 231.0h0M360.5 231.1h0M387.1 231.9h0M360.9 232.3h0M377.5 232.8h0M402.6 232.5h0M406.1 232.7h0M365.6 233.5h0M377.6 233.4h0M389.4 233.6h0M394.5 233.4h0M422.7 233.2h0M388.0 234.7h0M404.9 234.8h0M369.9 235.2h0M373.5 235.5h0M404.5 235.1h0M368.7 236.1h0M377.9 237.0h0M380.8 236.6h0M374.9 238.6h0M385.0 238.1h0M397.7 238.3h0M434.9 238.9h0M436.7 238.3h0M385.9 239.5h0M405.0 239.3h0M371.8 240.4h0M403.0 241.0h0M361.5 242.0h0M375.9 241.4h0M383.9 241.9h0M393.4 241.9h0M362.7 242.7h0M386.5 242.9h0M414.5 242.5h0M365.9 243.7h0M375.6 243.1h0M454.0 243.2h0M359.2 244.0h0M367.9 244.6h0M376.3 244.3h0M391.3 244.6h0M410.0 244.6h0M396.7 245.7h0M377.7 246.3h0M385.6 246.4h0M387.8 246.1h0M393.8 246.2h0M360.3 248.8h0M360.8 249.3h0M368.2 249.7h0M384.0 249.4h0M392.1 249.8h0M378.1 250.7h0M383.2 250.2h0M402.8 250.3h0M363.9 251.2h0M382.0 251.5h0M383.3 251.7h0M386.9 252.0h0M397.2 251.8h0M360.2 252.7h0M367.0 252.9h0M372.6 252.8h0M396.6 252.3h0M358.9 253.4h0M381.6 253.4h0M391.2 253.8h0M399.5 253.5h0M401.8 253.5h0M402.9 253.5h0M379.0 254.1h0M363.6 255.4h0M371.2 255.8h0M374.0 255.4h0M377.3 255.7h0M375.3 257.2h0M385.3 257.8h0M385.2 257.5h0M403.6 257.3h0M368.9 258.7h0M370.8 258.1h0M381.8 258.0h0M381.5 258.3h0M386.7 258.6h0M402.1 258.1h0M405.9 259.0h0M411.0 258.6h0M358.2 259.5h0M370.6 259.0h0M383.5 259.5h0M402.3 259.6h0M365.1 260.8h0M382.3 260.8h0M385.1 260.4h0M389.0 260.4h0M365.5 262.0h0M365.9 262.0h0M375.2 261.1h0M385.6 261.6h0M361.6 262.9h0M391.8 262.6h0M406.8 262.7h0M365.2 264.0h0M368.4 263.0h0M368.6 263.3h0M401.0 263.6h0M386.0 264.1h0M431.5 264.7h0M359.1 265.6h0M375.7 265.0h0M387.8 265.7h0M397.0 265.8h0M369.2 266.1h0M389.1 266.2h0M394.3 266.7h0M426.7 266.2h0M367.9 267.3h0M371.5 267.3h0M416.8 268.1h0M375.0 269.4h0M377.9 269.5h0M370.5 271.7h0M379.5 271.8h0M382.2 271.3h0M387.3 271.1h0M417.3 272.3h0M385.5 273.7h0M392.4 273.6h0M372.4 274.7h0M394.9 274.4h0M399.5 274.8h0M359.7 275.4h0M401.6 275.5h0M381.1 276.7h0M407.1 276.9h0M384.1 277.5h0M391.3 277.4h0M377.8 279.5h0M379.2 279.1h0M358.3 280.3h0M363.3 282.5h0M376.9 282.5h0M383.0 282.2h0M365.4 283.5h0M365.0 283.7h0M367.7 283.2h0M368.4 284.9h0M368.7 284.4h0M390.5 285.0h0M370.0 286.2h0M375.4 286.4h0M396.4 286.2h0M399.1 287.1h0M359.4 289.1h0M363.2 290.8h0M375.1 291.2h0M358.7 292.1h0M372.7 293.7h0M376.6 293.1h0M377.7 294.1h0M367.2 295.8h0M359.2 296.2h0M372.2 296.5h0M384.2 297.8h0M421.2 297.4h0M368.2 300.0h0M423.9 310.2h0M395.9 311.1h0M372.5 313.8h0M405.5 355.2h0M383.2 357.1h0M368.9 370.7h0M400.8 116.4h0M378.4 145.4h0M438.7 148.4h0M363.4 161.2h0M406.8 162.1h0M382.9 165.7h0M368.0 166.3h0M409.2 169.3h0M398.7 173.2h0M418.1 177.1h0M453.1 178.3h0M368.0 177.7h0M380.8 179.2h0M405.3 182.8h0M409.8 184.6h0M421.7 188.1h0M423.2 191.1h0M362.0 185.2h0M373.9 186.6h0M384.4 191.1h0M473.1 220.1h0M436.6 217.4h0M450.7 241.9h0M441.1 239.8h0M423.5 287.3h0M433.2 298.4h0M437.1 310.3h0M423.5 314.2h0M410.2 312.8h0M392.0 325.3h0M421.7 338.6h0M420.6 360.8h0M378.7 354.0h0M370.4 356.5h0M359.7 358.3h0M364.3 366.2h0M366.1 369.8h0M363.6 372.7h0M368.0 385.2h0M359.7 390.6h0M362.5 342.2h0M364.3 344.7h0M371.5 332.5h0M374.4 332.5h0M369.7 326.0h0M375.8 323.2h0M358.2 327.8h0M360.8 318.2h0M366.1 317.1h0M455.8 253.3h0M458.3 258.6h0M439.6 255.4h0M449.7 242.9h0M418.1 262.2h0" stroke="#3f8c47" stroke-width="4.50" stroke-linecap="round" fill="none"/>
<polygon points="810.0,300.0 812.0,290.0 822.0,278.0 840.0,269.0 860.0,265.0 880.0,268.0 900.0,273.0 930.0,279.0 946.0,281.0 946.0,326.0 904.0,329.0 860.0,332.0 830.0,334.0 815.0,330.0 808.0,320.0 806.0,310.0" fill="#bebebe"/>
<path d="M805.5 104.6h0M865.3 116.9h0M841.2 122.1h0M891.7 122.7h0M902.4 122.3h0M822.9 124.7h0M850.5 128.8h0M821.8 129.5h0M804.4 131.3h0M865.8 132.7h0M897.8 133.6h0M877.0 134.7h0M840.9 136.0h0M871.1 136.4h0M834.9 137.4h0M889.6 137.8h0M783.5 138.1h0M876.3 138.1h0M844.7 139.3h0M834.4 141.8h0M852.7 141.6h0M817.9 142.3h0M821.2 142.7h0M884.4 142.1h0M864.9 143.3h0M865.5 143.0h0M805.1 146.2h0M834.9 146.4h0M844.7 146.4h0M845.7 146.6h0M909.3 146.5h0M787.2 147.4h0M930.3 147.8h0M897.0 148.5h0M800.7 149.6h0M802.1 149.7h0M784.6 150.7h0M864.2 151.0h0M866.7 151.7h0M808.0 152.3h0M809.7 152.3h0M821.1 152.2h0M842.9 152.7h0M848.2 152.8h0M860.0 152.4h0M873.0 152.6h0M913.8 152.1h0M824.2 153.1h0M801.8 155.0h0M858.8 155.8h0M871.2 155.4h0M883.5 155.5h0M896.5 155.8h0M845.1 156.4h0M848.5 156.5h0M850.1 156.8h0M851.2 156.4h0M797.4 157.7h0M833.1 157.3h0M811.1 158.1h0M814.5 158.1h0M838.4 159.3h0M855.4 160.6h0M862.0 160.7h0M815.6 161.4h0M858.3 161.5h0M882.9 161.8h0M832.7 162.9h0M869.0 162.1h0M876.0 162.1h0M864.7 163.5h0M821.4 164.6h0M835.5 164.7h0M841.4 164.0h0M869.5 164.7h0M895.6 164.4h0M896.1 164.8h0M942.8 164.1h0M798.3 165.9h0M808.3 165.2h0M840.6 165.6h0M856.2 165.0h0M868.7 165.4h0M817.2 166.7h0M829.1 167.0h0M850.2 166.7h0M883.1 166.6h0M796.2 167.3h0M854.0 167.7h0M859.6 167.2h0M908.8 168.0h0M812.6 168.5h0M829.2 168.2h0M874.8 168.1h0M809.4 169.2h0M857.8 169.4h0M895.4 169.5h0M794.6 170.9h0M824.6 170.0h0M837.7 170.5h0M844.7 170.1h0M849.5 170.8h0M895.2 170.2h0M801.2 171.4h0M840.7 171.2h0M816.8 172.1h0M836.2 172.3h0M856.5 172.6h0M860.6 172.6h0M808.6 173.6h0M817.1 173.4h0M842.9 173.7h0M852.8 173.3h0M854.3 173.3h0M792.2 174.6h0M816.3 174.5h0M827.1 175.0h0M869.7 174.6h0M830.3 175.8h0M864.3 175.6h0M867.5 175.3h0M933.7 175.7h0M813.8 176.5h0M846.8 176.7h0M876.0 176.5h0M878.6 176.2h0M826.7 177.6h0M898.3 177.8h0M945.1 177.3h0M813.8 178.7h0M820.1 178.1h0M831.5 178.0h0M839.8 178.9h0M867.9 178.1h0M813.0 179.1h0M839.8 179.2h0M848.4 179.9h0M850.2 179.6h0M858.7 179.9h0M889.9 179.9h0M776.0 180.9h0M818.9 181.0h0M819.1 180.4h0M849.2 180.2h0M861.8 181.0h0M876.3 180.2h0M898.7 180.6h0M867.3 182.0h0M874.1 181.8h0M908.2 181.2h0M804.5 183.0h0M817.8 182.4h0M833.9 182.1h0M838.7 182.4h0M839.2 182.4h0M852.1 182.1h0M861.4 182.6h0M891.6 182.4h0M895.3 182.7h0M899.5 182.6h0M901.4 182.3h0M912.3 182.6h0M757.4 183.2h0M807.4 183.0h0M844.5 183.0h0M850.0 183.6h0M849.2 183.4h0M871.1 183.3h0M879.8 183.4h0M821.0 184.4h0M821.5 184.9h0M831.2 184.8h0M831.9 184.7h0M840.6 184.3h0M855.2 184.1h0M856.7 185.0h0M860.4 184.4h0M804.5 185.4h0M811.2 185.7h0M859.8 185.8h0M786.8 187.0h0M826.4 186.4h0M833.2 186.2h0M850.3 186.5h0M826.8 187.7h0M868.9 187.6h0M784.8 188.2h0M786.7 188.6h0M799.9 188.5h0M818.6 188.7h0M830.3 188.9h0M831.4 188.8h0M844.2 189.0h0M848.9 188.2h0M869.5 188.0h0M788.2 189.8h0M794.0 189.6h0M797.4 189.9h0M815.1 189.4h0M828.9 189.4h0M840.5 189.6h0M840.3 190.0h0M801.9 190.3h0M803.4 190.4h0M808.3 190.9h0M825.1 190.1h0M826.5 190.6h0M828.8 190.1h0M849.9 190.7h0M858.8 190.6h0M872.1 190.5h0M814.3 191.9h0M820.1 191.1h0M832.3 191.6h0M840.3 191.6h0M849.5 191.1h0M856.8 191.6h0M795.7 192.1h0M817.5 192.1h0M862.3 192.6h0M863.6 192.4h0M866.1 192.8h0M875.3 192.3h0M803.6 193.3h0M809.8 193.4h0M827.8 193.2h0M834.6 193.5h0M844.4 193.3h0M873.6 193.6h0M898.7 194.0h0M799.2 194.1h0M810.1 194.1h0M840.5 196.0h0M908.8 196.0h0M813.7 196.0h0M821.8 196.4h0M822.2 196.1h0M865.0 197.9h0M891.5 197.8h0M819.0 198.1h0M830.6 198.1h0M837.2 198.1h0M839.7 198.7h0M842.8 198.0h0M842.5 198.2h0M860.5 198.3h0M861.0 198.5h0M878.4 198.7h0M760.1 199.8h0M767.9 199.8h0M806.2 199.4h0M810.6 199.9h0M817.2 199.3h0M844.1 199.1h0M847.5 199.3h0M860.3 199.2h0M877.2 199.6h0M772.1 200.2h0M808.1 200.7h0M809.3 200.0h0M817.7 200.8h0M820.0 200.3h0M832.0 201.0h0M836.4 200.6h0M854.2 200.2h0M855.5 200.7h0M878.6 200.9h0M779.7 201.6h0M824.0 201.6h0M830.9 201.3h0M831.9 201.4h0M833.0 201.8h0M840.0 201.8h0M844.6 202.0h0M818.6 202.5h0M889.8 203.0h0M833.0 203.1h0M835.7 203.5h0M835.2 203.7h0M846.9 203.1h0M856.9 203.7h0M891.2 203.5h0M784.8 204.4h0M787.1 204.2h0M816.9 204.3h0M833.6 204.6h0M837.7 204.4h0M854.3 204.6h0M878.5 204.1h0M880.3 204.4h0M792.8 205.1h0M811.0 205.2h0M813.4 205.4h0M816.3 205.4h0M823.2 205.5h0M838.5 205.4h0M856.1 205.6h0M908.1 205.4h0M910.1 206.0h0M913.1 205.9h0M914.3 205.7h0M809.4 206.9h0M820.3 206.5h0M838.0 206.0h0M839.9 207.0h0M844.5 206.5h0M851.6 206.3h0M854.5 206.4h0M874.7 206.1h0M874.2 206.3h0M905.5 206.0h0M808.0 207.1h0M810.3 207.1h0M812.7 207.8h0M821.1 207.3h0M824.7 207.6h0M832.8 207.6h0M854.9 207.2h0M873.3 207.7h0M882.4 207.3h0M823.2 209.0h0M829.9 208.5h0M831.9 209.0h0M851.3 209.0h0M853.1 208.6h0M859.0 208.8h0M863.6 208.6h0M878.8 208.6h0M918.0 208.5h0M787.3 209.3h0M792.4 209.9h0M802.8 209.9h0M818.5 209.0h0M821.8 209.4h0M856.8 209.2h0M873.1 209.9h0M883.0 209.5h0M798.1 210.2h0M807.5 210.5h0M834.0 210.3h0M838.7 210.1h0M855.1 210.2h0M856.1 210.7h0M858.0 210.8h0M803.0 211.9h0M805.9 211.8h0M824.1 211.7h0M843.1 211.9h0M852.0 212.0h0M868.7 211.6h0M898.4 211.3h0M800.4 212.3h0M813.3 212.4h0M831.7 212.6h0M840.9 212.2h0M878.9 212.3h0M786.8 213.2h0M790.4 213.1h0M803.8 213.3h0M815.4 213.3h0M822.6 213.5h0M836.3 213.4h0M862.5 213.8h0M864.3 213.6h0M880.5 213.1h0M792.9 214.8h0M812.4 214.3h0M819.6 214.9h0M826.7 214.5h0M845.9 214.1h0M854.6 214.1h0M867.8 214.5h0M924.0 214.6h0M829.3 215.5h0M835.2 215.1h0M857.5 215.5h0M857.6 215.6h0M870.4 215.6h0M786.6 216.9h0M806.3 216.5h0M826.2 216.4h0M848.1 216.8h0M856.7 216.7h0M865.0 216.5h0M869.0 216.4h0M906.2 216.0h0M923.9 216.4h0M806.3 217.7h0M824.9 217.3h0M832.4 217.1h0M835.3 217.7h0M838.3 217.7h0M845.1 217.8h0M863.0 217.7h0M908.3 217.5h0M742.7 218.4h0M816.7 218.0h0M820.2 218.5h0M828.7 218.3h0M829.5 218.0h0M839.7 218.0h0M839.8 218.2h0M862.8 218.8h0M863.3 218.6h0M867.6 218.0h0M892.0 218.7h0M803.2 219.1h0M804.3 219.4h0M821.1 219.5h0M832.3 219.9h0M833.8 219.6h0M836.6 219.3h0M841.3 219.2h0M859.6 219.8h0M863.7 219.4h0M864.5 219.5h0M890.1 220.0h0M810.5 220.2h0M822.9 220.1h0M828.0 220.7h0M842.9 220.7h0M878.4 220.7h0M799.7 221.8h0M800.9 221.8h0M808.6 221.2h0M826.0 221.9h0M833.1 221.7h0M850.6 221.4h0M850.1 221.3h0M863.3 221.7h0M864.3 221.8h0M884.2 221.7h0M888.5 221.8h0M910.7 221.5h0M942.7 221.6h0M804.9 222.6h0M808.7 222.3h0M819.5 222.3h0M825.3 222.9h0M828.9 223.0h0M843.6 222.8h0M853.0 222.7h0M861.6 222.3h0M865.1 222.2h0M867.4 222.2h0M748.8 223.2h0M802.7 223.5h0M817.0 223.3h0M821.8 223.8h0M829.1 223.2h0M831.2 223.6h0M836.4 223.8h0M867.3 223.8h0M874.4 223.7h0M923.5 223.4h0M816.4 224.2h0M822.1 224.5h0M824.8 224.1h0M824.4 224.9h0M832.8 224.3h0M868.3 224.4h0M872.8 224.7h0M872.2 224.4h0M890.2 224.6h0M902.6 224.3h0M815.6 225.5h0M821.9 225.6h0M832.0 225.3h0M837.4 225.6h0M845.9 225.4h0M845.0 225.5h0M866.2 225.0h0M868.7 225.7h0M882.3 225.5h0M886.5 225.2h0M891.9 225.5h0M905.1 225.3h0M912.3 225.9h0M797.6 226.1h0M814.8 226.8h0M817.5 226.4h0M830.1 226.5h0M840.4 226.2h0M846.9 226.6h0M854.2 226.4h0M860.0 226.9h0M873.3 226.8h0M887.7 226.2h0M946.8 226.3h0M794.1 227.9h0M803.9 227.9h0M841.1 227.4h0M849.6 227.6h0M874.3 227.6h0M874.2 227.2h0M945.3 227.6h0M812.2 228.4h0M829.5 228.3h0M832.4 228.0h0M832.6 228.1h0M846.5 228.6h0M863.0 229.0h0M863.9 229.0h0M865.9 228.3h0M873.5 228.8h0M873.3 228.7h0M887.2 228.2h0M890.3 229.0h0M892.3 228.7h0M892.7 228.2h0M893.2 228.6h0M902.2 228.2h0M919.9 228.8h0M933.5 228.0h0M797.4 229.3h0M819.1 229.5h0M823.7 229.1h0M841.1 229.5h0M842.7 229.9h0M842.1 229.7h0M844.3 229.9h0M845.2 229.9h0M845.9 229.7h0M848.5 229.4h0M849.1 229.3h0M857.7 229.1h0M858.8 229.4h0M870.7 229.1h0M872.1 229.0h0M891.5 229.0h0M895.7 229.1h0M839.4 230.9h0M846.8 230.5h0M906.9 230.8h0M822.5 231.1h0M832.6 231.7h0M862.7 231.7h0M863.0 231.4h0M870.3 231.2h0M889.5 231.1h0M892.4 231.8h0M940.5 231.7h0M818.6 232.3h0M833.9 232.5h0M844.5 232.4h0M854.8 232.2h0M854.4 232.3h0M862.7 232.3h0M902.8 232.0h0M912.3 232.4h0M743.3 233.9h0M804.4 233.3h0M809.9 233.9h0M849.2 233.0h0M858.0 233.4h0M887.1 233.9h0M807.2 234.6h0M814.5 234.5h0M834.3 234.0h0M836.1 234.0h0M837.5 234.1h0M839.0 235.0h0M852.1 234.7h0M853.6 234.3h0M873.0 234.1h0M878.0 234.6h0M882.0 234.5h0M807.7 235.7h0M809.4 235.1h0M835.0 235.8h0M843.7 235.5h0M864.6 235.0h0M870.4 235.1h0M898.5 235.7h0M916.9 235.1h0M937.0 235.8h0M800.5 236.6h0M807.9 236.7h0M814.2 236.4h0M817.4 236.5h0M819.3 236.3h0M839.7 236.8h0M840.7 236.2h0M842.0 236.5h0M890.1 237.0h0M897.7 236.8h0M898.0 236.9h0M898.2 236.6h0M900.3 236.7h0M812.8 237.1h0M822.9 237.5h0M823.0 237.4h0M828.5 237.1h0M832.5 237.1h0M837.6 237.9h0M837.1 238.0h0M843.8 237.3h0M849.6 237.7h0M852.3 238.0h0M869.4 237.9h0M789.5 238.4h0M791.4 238.8h0M795.7 238.8h0M809.2 238.3h0M817.8 238.5h0M833.7 238.4h0M834.6 238.8h0M835.3 238.2h0M847.1 238.3h0M858.0 238.7h0M880.7 238.4h0M889.8 238.7h0M900.0 238.4h0M823.7 239.7h0M830.0 239.3h0M833.3 239.7h0M848.0 239.9h0M851.1 239.9h0M852.9 239.9h0M863.4 239.9h0M873.5 239.2h0M895.6 239.9h0M811.5 240.8h0M812.3 240.9h0M816.3 240.8h0M820.7 240.0h0M825.2 240.8h0M850.8 240.6h0M853.9 240.1h0M876.3 240.5h0M891.1 240.6h0M899.5 240.5h0M915.9 240.7h0M928.3 240.1h0M819.6 241.4h0M828.4 242.0h0M832.1 241.4h0M836.8 241.8h0M836.9 241.4h0M841.9 242.0h0M852.0 241.6h0M890.1 242.0h0M902.1 241.0h0M928.6 241.5h0M787.4 242.5h0M798.2 242.2h0M809.8 242.2h0M811.1 242.9h0M821.3 242.4h0M830.7 242.1h0M840.7 242.3h0M844.2 242.3h0M848.8 242.8h0M853.8 242.5h0M853.9 242.6h0M865.7 242.2h0M867.4 242.7h0M882.4 242.8h0M922.9 242.1h0M812.3 243.3h0M819.6 243.4h0M856.2 243.8h0M865.0 243.9h0M866.5 243.7h0M867.9 243.1h0M873.6 243.6h0M878.4 243.4h0M904.1 243.8h0M800.1 244.4h0M809.3 244.2h0M831.7 244.8h0M836.9 244.2h0M839.8 244.9h0M842.3 245.0h0M842.1 244.0h0M851.4 244.2h0M854.6 244.0h0M864.7 244.7h0M870.8 244.6h0M871.8 244.8h0M876.1 244.1h0M891.9 244.9h0M913.2 244.3h0M820.7 245.5h0M823.6 245.6h0M844.5 245.1h0M846.9 245.0h0M862.3 245.1h0M866.7 245.9h0M867.3 245.3h0M878.0 245.2h0M908.3 245.2h0M806.7 247.0h0M809.9 246.9h0M813.3 246.3h0M823.8 246.5h0M826.4 246.0h0M830.4 246.2h0M857.1 246.7h0M862.4 246.2h0M868.5 246.6h0M872.5 246.4h0M882.6 246.3h0M890.0 246.8h0M892.1 246.1h0M921.6 246.8h0M788.7 247.9h0M803.4 247.8h0M805.1 247.9h0M806.6 247.1h0M816.9 247.2h0M822.5 247.6h0M822.4 247.8h0M824.4 247.0h0M855.7 247.3h0M864.2 247.6h0M870.1 247.3h0M881.2 247.5h0M921.3 247.2h0M927.2 247.2h0M772.8 248.4h0M795.0 248.8h0M806.5 248.0h0M846.9 248.8h0M850.3 248.6h0M859.7 248.6h0M862.4 248.7h0M863.5 248.5h0M866.3 248.2h0M871.9 248.9h0M889.9 248.8h0M891.5 248.9h0M900.6 248.9h0M912.8 248.9h0M947.6 248.2h0M771.7 249.5h0M781.5 249.3h0M800.2 249.3h0M812.1 249.3h0M818.9 249.3h0M821.2 249.2h0M830.1 249.3h0M831.8 249.9h0M835.2 249.2h0M841.1 249.4h0M844.0 249.1h0M854.0 249.7h0M874.8 249.3h0M931.4 249.3h0M771.4 250.4h0M799.1 250.0h0M809.6 250.4h0M814.4 250.8h0M815.5 250.7h0M831.6 250.6h0M834.0 250.0h0M839.1 250.4h0M852.8 250.7h0M856.6 250.5h0M876.9 250.4h0M886.0 250.2h0M891.1 250.6h0M910.7 250.0h0M937.6 250.9h0M940.3 250.5h0M830.8 251.6h0M832.5 251.2h0M842.8 251.7h0M869.4 251.9h0M880.7 251.5h0M890.9 251.6h0M893.1 251.0h0M910.7 251.1h0M918.3 251.5h0M937.9 252.0h0M797.8 252.6h0M815.2 252.9h0M832.2 252.2h0M833.5 252.5h0M842.2 252.6h0M853.5 252.5h0M855.4 252.2h0M858.2 252.2h0M874.1 253.0h0M879.6 252.8h0M889.7 252.6h0M901.7 252.2h0M925.1 252.7h0M930.8 252.4h0M931.5 252.2h0M947.3 252.7h0M807.2 253.5h0M808.7 253.9h0M813.2 253.0h0M818.6 253.7h0M818.7 253.8h0M819.3 253.4h0M850.2 253.5h0M854.4 253.5h0M857.2 253.1h0M858.5 253.7h0M859.2 253.9h0M863.3 253.7h0M864.0 253.7h0M866.6 253.5h0M869.9 254.0h0M882.9 253.4h0M905.2 253.3h0M920.0 253.9h0M924.8 253.7h0M762.9 254.2h0M813.0 254.8h0M813.6 254.4h0M824.5 254.3h0M825.6 254.2h0M831.8 254.2h0M837.9 254.0h0M842.6 254.7h0M851.5 254.8h0M859.0 254.2h0M863.4 254.0h0M879.2 254.7h0M899.0 254.7h0M910.5 254.6h0M931.9 254.7h0M813.4 255.2h0M821.3 255.8h0M825.2 255.2h0M832.1 255.3h0M846.0 255.5h0M861.8 256.0h0M878.2 255.3h0M883.6 255.9h0M923.6 255.7h0M784.6 256.4h0M785.9 256.6h0M799.4 256.9h0M803.4 256.8h0M804.9 256.4h0M814.1 257.0h0M834.8 256.2h0M848.3 256.1h0M851.4 256.8h0M853.5 256.3h0M853.0 256.0h0M865.8 256.2h0M871.1 256.5h0M884.0 256.9h0M886.9 256.5h0M893.0 257.0h0M907.3 257.0h0M918.4 256.4h0M929.7 256.3h0M934.2 256.6h0M935.4 256.2h0M752.5 257.4h0M812.5 257.6h0M820.9 257.3h0M821.9 257.7h0M821.1 257.9h0M835.1 257.5h0M838.5 257.7h0M849.4 257.1h0M856.7 257.1h0M885.9 257.3h0M902.5 257.0h0M920.8 257.3h0M921.1 257.9h0M924.2 257.7h0M936.1 257.5h0M802.1 258.5h0M812.1 258.2h0M818.8 258.9h0M839.8 258.5h0M840.0 258.9h0M840.9 258.6h0M843.6 258.8h0M846.2 258.7h0M847.5 258.2h0M873.0 258.6h0M892.5 258.9h0M899.8 258.5h0M899.3 258.1h0M907.1 258.9h0M910.9 258.7h0M920.8 258.1h0M924.7 258.5h0M930.8 258.6h0M806.8 259.7h0M840.1 259.2h0M842.7 259.9h0M850.5 259.9h0M850.3 259.6h0M866.0 259.0h0M897.0 259.1h0M913.1 259.5h0M794.5 260.3h0M804.9 260.7h0M806.5 260.6h0M822.1 260.5h0M824.7 260.4h0M836.7 260.0h0M839.4 260.4h0M848.7 260.8h0M849.2 260.2h0M849.5 260.7h0M856.3 260.2h0M860.7 260.0h0M877.9 260.3h0M936.3 260.0h0M939.9 260.8h0M786.8 261.4h0M807.9 261.4h0M811.5 261.6h0M817.5 261.9h0M829.9 261.9h0M839.1 261.9h0M841.5 261.1h0M848.2 262.0h0M852.2 261.8h0M853.7 261.2h0M864.1 261.0h0M865.5 261.3h0M887.6 261.8h0M890.1 261.3h0M909.2 261.4h0M935.5 261.4h0M742.1 262.1h0M751.7 262.5h0M803.3 262.1h0M804.9 262.1h0M833.0 262.8h0M839.5 262.8h0M839.3 262.2h0M843.1 262.2h0M847.9 262.4h0M849.9 262.7h0M849.4 262.8h0M850.3 262.7h0M857.5 262.7h0M868.3 262.3h0M872.2 262.2h0M879.1 263.0h0M883.1 262.9h0M888.7 262.3h0M891.5 262.0h0M893.3 262.9h0M898.3 262.8h0M898.3 262.1h0M914.8 262.0h0M921.3 262.4h0M930.0 262.3h0M942.4 262.2h0M805.3 263.8h0M810.5 263.5h0M818.1 263.5h0M820.6 263.0h0M826.8 263.7h0M826.6 263.8h0M829.9 263.7h0M835.2 263.1h0M849.0 263.5h0M849.4 263.1h0M849.1 263.3h0M854.3 263.6h0M862.5 263.4h0M863.5 263.3h0M863.9 264.0h0M865.2 263.6h0M865.6 263.7h0M867.3 263.4h0M885.2 263.0h0M887.3 263.9h0M888.4 263.9h0M890.1 263.9h0M901.9 263.1h0M903.8 263.2h0M909.4 263.1h0M936.9 263.3h0M945.5 263.2h0M947.3 263.0h0M794.1 264.6h0M815.0 264.7h0M819.6 264.1h0M828.2 264.1h0M830.8 264.2h0M842.1 264.5h0M854.6 264.1h0M864.2 264.8h0M867.2 264.2h0M874.9 264.9h0M874.2 264.3h0M881.2 264.3h0M903.9 264.7h0M903.1 264.3h0M908.5 264.2h0M947.1 264.6h0M773.4 265.6h0M785.9 265.1h0M803.0 265.1h0M826.3 265.6h0M855.5 265.2h0M861.4 265.2h0M865.3 265.2h0M870.0 265.0h0M877.2 265.5h0M892.3 265.4h0M894.2 265.5h0M898.6 265.7h0M912.7 265.9h0M915.0 265.9h0M918.7 265.9h0M923.5 265.3h0M807.3 266.9h0M809.8 267.0h0M813.1 266.8h0M819.8 266.7h0M824.3 266.6h0M836.0 266.6h0M840.7 267.0h0M841.9 266.6h0M841.4 266.4h0M850.2 266.3h0M862.1 266.0h0M863.8 266.3h0M866.5 266.0h0M870.1 266.4h0M871.9 266.6h0M873.3 266.2h0M890.2 266.8h0M901.3 266.5h0M902.7 266.7h0M915.0 266.5h0M924.3 266.7h0M924.2 266.7h0M926.4 266.7h0M929.4 266.7h0M930.9 266.3h0M810.7 267.8h0M813.0 267.4h0M822.6 267.5h0M829.5 267.8h0M838.7 267.6h0M846.4 267.6h0M847.1 267.2h0M853.2 267.8h0M854.3 267.1h0M854.5 267.2h0M856.2 267.8h0M864.5 268.0h0M866.2 267.6h0M868.2 267.8h0M870.2 267.8h0M876.5 267.6h0M876.8 267.1h0M887.5 267.3h0M890.3 267.4h0M891.3 267.9h0M904.4 267.1h0M905.1 267.9h0M911.6 267.8h0M912.6 267.5h0M927.6 267.4h0M931.6 267.1h0M934.0 267.5h0M778.6 268.0h0M810.0 268.7h0M819.6 268.6h0M821.6 269.0h0M823.2 268.9h0M827.9 268.2h0M834.0 268.6h0M840.0 268.5h0M849.9 268.8h0M849.3 268.0h0M852.0 268.5h0M862.1 268.4h0M862.8 268.3h0M863.4 268.1h0M872.1 268.7h0M874.1 268.3h0M878.7 268.9h0M883.4 268.8h0M885.9 268.2h0M885.2 268.7h0M889.6 268.2h0M890.7 268.1h0M895.6 268.6h0M898.5 268.6h0M898.8 268.3h0M909.1 268.1h0M914.6 268.6h0M924.8 268.7h0M935.3 268.7h0M828.9 269.2h0M835.3 269.1h0M836.0 269.2h0M843.5 270.0h0M846.4 269.3h0M847.7 269.5h0M869.0 269.8h0M871.7 269.3h0M871.9 269.1h0M872.2 269.8h0M879.3 269.5h0M886.4 269.7h0M889.8 269.1h0M891.0 270.0h0M899.9 269.5h0M899.2 269.9h0M907.1 269.2h0M911.5 269.4h0M912.9 269.8h0M913.4 269.9h0M943.1 269.1h0M947.4 269.1h0M776.0 270.7h0M792.9 270.1h0M796.5 270.1h0M806.1 270.0h0M817.6 270.4h0M827.6 270.1h0M828.1 270.5h0M832.0 270.8h0M841.1 270.4h0M843.2 270.9h0M845.9 270.9h0M875.5 270.7h0M879.9 270.4h0M891.6 270.1h0M893.4 270.3h0M905.4 270.2h0M922.2 270.6h0M942.0 270.3h0M806.1 271.0h0M808.9 271.2h0M809.9 271.9h0M823.6 271.7h0M827.8 271.5h0M831.6 271.2h0M838.3 271.9h0M841.5 271.8h0M842.8 271.9h0M892.8 271.0h0M896.7 271.4h0M896.0 271.0h0M901.5 271.2h0M904.0 271.8h0M905.1 271.7h0M908.5 271.0h0M908.5 271.9h0M910.1 271.9h0M927.7 271.7h0M933.3 271.5h0M780.9 272.1h0M808.3 272.5h0M809.8 272.2h0M824.2 272.7h0M824.4 272.9h0M825.0 272.6h0M832.2 272.7h0M891.8 272.8h0M893.8 272.4h0M895.5 272.3h0M900.4 272.5h0M902.4 272.1h0M904.1 272.8h0M908.1 272.5h0M908.7 272.9h0M911.4 272.6h0M914.0 272.1h0M921.5 272.5h0M946.7 272.9h0M798.9 273.4h0M810.5 273.8h0M813.3 273.7h0M814.0 273.3h0M817.8 273.6h0M828.6 273.4h0M829.4 273.9h0M833.7 273.6h0M836.1 273.2h0M889.8 274.0h0M889.0 273.2h0M892.5 273.6h0M908.7 273.1h0M913.1 273.8h0M923.6 273.8h0M925.6 273.3h0M927.5 273.6h0M938.9 273.4h0M940.9 273.4h0M943.6 273.8h0M947.7 273.5h0M812.4 274.4h0M821.7 274.6h0M824.4 274.6h0M828.1 274.6h0M829.6 274.2h0M831.1 274.1h0M896.5 274.6h0M897.4 274.7h0M899.6 274.5h0M901.2 274.1h0M908.6 274.0h0M908.1 274.4h0M911.6 274.3h0M914.6 274.6h0M914.3 274.3h0M919.5 274.0h0M939.1 274.6h0M942.3 274.7h0M794.9 275.1h0M811.6 275.2h0M818.4 275.5h0M819.4 275.6h0M819.1 275.6h0M820.6 275.2h0M821.2 275.2h0M823.4 275.7h0M826.0 275.7h0M825.1 275.1h0M830.9 275.2h0M833.2 275.8h0M898.3 276.0h0M898.1 275.3h0M904.8 275.5h0M905.9 275.8h0M911.6 275.2h0M911.1 275.9h0M913.7 275.5h0M919.9 275.3h0M922.3 275.5h0M922.8 275.8h0M924.0 275.8h0M925.4 275.6h0M930.8 275.3h0M938.0 275.7h0M939.5 275.5h0M941.1 275.6h0M943.9 275.1h0M948.0 275.8h0M740.3 276.2h0M794.8 276.7h0M809.3 277.0h0M812.3 276.8h0M816.2 276.0h0M823.0 276.2h0M826.2 276.8h0M901.1 276.1h0M901.9 276.4h0M906.1 276.8h0M912.5 276.9h0M912.7 276.9h0M914.5 277.0h0M914.1 276.5h0M927.2 276.8h0M936.1 276.2h0M939.3 276.1h0M939.6 276.7h0M946.6 276.4h0M788.2 277.6h0M803.6 277.4h0M817.9 277.7h0M818.5 277.5h0M822.3 277.3h0M822.9 277.9h0M827.7 277.1h0M909.2 277.3h0M911.2 277.6h0M916.3 277.6h0M918.3 277.5h0M920.8 277.7h0M930.1 277.1h0M932.6 277.4h0M940.6 277.4h0M940.9 277.8h0M945.1 277.4h0M947.7 277.4h0M780.5 278.3h0M796.5 278.9h0M815.6 278.3h0M819.2 278.4h0M911.8 278.7h0M916.4 278.7h0M918.5 278.5h0M920.7 278.8h0M931.2 278.6h0M935.0 278.1h0M814.7 279.0h0M825.7 279.8h0M919.8 279.2h0M924.7 279.3h0M924.7 279.2h0M929.1 279.7h0M936.1 279.6h0M942.4 279.9h0M942.8 279.5h0M948.9 279.9h0M800.0 281.0h0M817.2 280.6h0M818.1 280.4h0M821.9 280.0h0M927.6 280.2h0M932.6 280.1h0M939.7 280.6h0M944.5 280.0h0M947.6 280.1h0M787.1 281.7h0M804.3 281.3h0M806.0 281.4h0M811.0 281.7h0M818.3 281.2h0M822.8 281.8h0M822.7 281.1h0M927.1 281.9h0M928.6 281.6h0M929.6 281.1h0M936.2 281.4h0M942.7 281.1h0M944.9 281.6h0M946.4 281.2h0M947.2 281.3h0M810.7 282.8h0M811.0 282.5h0M811.2 282.7h0M812.9 282.7h0M814.5 282.8h0M815.3 282.9h0M818.0 282.3h0M941.0 282.9h0M945.1 282.8h0M791.4 283.0h0M804.9 284.0h0M810.1 283.1h0M811.1 283.8h0M814.8 283.4h0M819.9 283.5h0M943.0 283.8h0M946.1 284.0h0M947.2 284.0h0M797.9 284.1h0M799.3 284.6h0M810.2 284.2h0M812.0 284.9h0M815.5 284.4h0M817.3 284.5h0M944.5 284.5h0M944.9 284.2h0M948.3 284.4h0M782.9 285.8h0M797.5 285.7h0M799.7 285.3h0M815.4 285.7h0M817.5 285.2h0M818.7 285.5h0M819.8 285.4h0M733.2 286.2h0M797.7 286.7h0M805.8 286.9h0M812.0 286.4h0M812.6 286.0h0M813.6 286.7h0M818.8 286.9h0M948.3 286.0h0M763.7 287.4h0M790.8 287.7h0M790.1 287.5h0M809.2 287.2h0M813.0 287.3h0M815.3 287.7h0M944.2 287.7h0M944.5 287.3h0M947.5 287.5h0M772.2 288.1h0M790.8 288.9h0M791.0 288.4h0M794.3 288.5h0M795.2 288.2h0M797.9 288.5h0M810.0 288.0h0M816.5 288.0h0M793.2 289.6h0M799.8 289.5h0M807.7 289.7h0M810.4 289.3h0M815.4 289.3h0M947.3 289.3h0M793.5 290.2h0M800.7 290.0h0M807.5 290.2h0M808.5 290.2h0M810.5 290.9h0M811.3 290.3h0M945.7 290.8h0M945.5 290.3h0M785.0 291.8h0M785.5 291.6h0M794.6 291.7h0M804.8 291.3h0M808.0 292.0h0M814.5 291.9h0M778.4 292.2h0M791.9 292.9h0M802.0 292.9h0M801.6 292.3h0M810.3 292.9h0M945.2 292.9h0M945.8 292.7h0M798.6 293.3h0M801.2 294.0h0M811.5 293.2h0M797.3 294.5h0M805.1 294.6h0M806.8 294.0h0M812.9 294.3h0M813.7 294.7h0M945.5 294.5h0M946.3 294.5h0M794.0 295.9h0M813.5 295.0h0M947.7 295.9h0M790.4 296.2h0M804.7 296.3h0M806.0 297.0h0M808.8 296.1h0M812.0 296.0h0M812.7 296.7h0M813.2 296.3h0M945.9 296.8h0M786.7 297.0h0M804.3 297.3h0M805.1 297.2h0M810.0 298.0h0M810.9 298.0h0M811.4 297.5h0M813.7 297.8h0M785.0 298.5h0M806.1 298.5h0M806.7 298.7h0M807.4 298.6h0M809.3 298.7h0M947.3 298.3h0M793.3 299.7h0M801.1 299.5h0M808.4 299.4h0M944.6 299.6h0M946.7 299.1h0M769.0 300.9h0M787.5 300.8h0M801.2 300.8h0M808.5 300.1h0M945.4 300.6h0M946.3 300.5h0M793.1 302.0h0M806.5 301.1h0M807.0 301.3h0M809.3 301.4h0M810.5 301.2h0M811.7 301.6h0M948.7 301.1h0M807.9 302.9h0M808.5 302.1h0M948.9 302.4h0M789.3 303.0h0M799.8 303.7h0M809.9 303.1h0M946.2 303.1h0M948.7 303.5h0M761.3 304.4h0M797.5 304.4h0M802.6 305.0h0M803.5 304.3h0M803.3 304.2h0M804.3 304.9h0M807.6 304.4h0M781.8 305.6h0M798.2 305.9h0M801.3 305.5h0M805.1 305.2h0M808.6 306.0h0M944.1 305.7h0M945.6 306.0h0M785.7 306.4h0M947.6 306.4h0M758.4 307.6h0M788.8 307.2h0M790.3 307.0h0M802.2 307.5h0M802.2 307.4h0M947.9 307.8h0M746.8 308.1h0M805.3 308.1h0M807.0 308.4h0M944.1 308.6h0M733.5 310.0h0M787.8 309.9h0M793.5 309.3h0M795.5 309.4h0M802.2 309.8h0M808.8 309.5h0M804.7 310.3h0M945.8 310.8h0M945.5 310.3h0M945.3 310.4h0M946.1 310.6h0M792.7 311.6h0M802.2 311.8h0M802.4 311.6h0M802.7 311.6h0M803.1 311.7h0M803.3 311.8h0M946.2 311.9h0M797.3 312.1h0M801.4 312.6h0M806.1 312.5h0M944.5 312.7h0M948.8 312.1h0M782.3 313.8h0M793.6 313.4h0M797.2 313.0h0M807.2 313.6h0M808.2 313.1h0M944.1 313.5h0M795.6 314.9h0M795.3 314.8h0M797.6 314.7h0M804.1 314.7h0M805.1 314.3h0M807.9 314.1h0M944.5 314.1h0M946.1 314.7h0M947.6 314.2h0M948.9 314.5h0M788.3 315.9h0M795.2 315.7h0M801.8 315.4h0M805.3 315.6h0M944.7 315.1h0M802.9 316.5h0M807.7 316.4h0M947.9 316.0h0M797.3 317.0h0M800.4 317.3h0M807.6 317.9h0M793.4 319.0h0M800.8 319.7h0M945.7 319.4h0M946.6 319.3h0M947.3 319.3h0M803.9 320.5h0M806.3 320.3h0M810.9 320.4h0M944.9 320.0h0M945.3 320.8h0M947.3 320.3h0M804.3 321.1h0M809.7 321.5h0M946.2 321.9h0M779.4 322.2h0M794.9 322.6h0M797.8 322.4h0M797.3 323.0h0M809.4 322.4h0M805.3 323.7h0M808.1 323.5h0M813.3 323.2h0M785.7 324.7h0M790.8 324.9h0M797.7 324.2h0M802.5 324.1h0M803.6 324.3h0M812.8 324.4h0M936.9 324.8h0M937.2 324.6h0M940.1 324.2h0M948.5 324.7h0M782.9 325.6h0M784.6 325.7h0M801.6 325.9h0M807.4 325.9h0M808.0 325.6h0M813.7 325.7h0M920.0 325.4h0M935.8 325.1h0M936.4 325.6h0M938.4 325.2h0M940.2 325.7h0M943.8 325.9h0M946.9 325.1h0M789.9 326.0h0M906.7 326.2h0M909.7 326.4h0M919.1 326.7h0M932.2 326.5h0M935.9 326.8h0M804.1 327.6h0M805.5 327.8h0M811.6 327.1h0M812.2 327.1h0M897.8 327.7h0M897.7 327.3h0M899.6 328.0h0M903.8 327.5h0M905.6 327.5h0M906.2 327.0h0M907.0 327.2h0M910.1 327.9h0M919.5 328.0h0M931.9 327.1h0M943.5 327.7h0M806.7 328.0h0M810.0 328.3h0M814.3 328.7h0M814.7 328.8h0M817.0 328.8h0M818.2 328.0h0M878.9 328.7h0M878.8 328.1h0M881.2 328.3h0M887.9 328.8h0M889.2 328.4h0M899.0 328.6h0M901.4 328.9h0M934.0 328.5h0M934.6 328.0h0M934.5 328.9h0M940.6 328.0h0M940.5 328.6h0M943.6 328.1h0M948.1 328.8h0M801.6 329.3h0M802.8 329.1h0M815.3 329.6h0M819.1 329.6h0M821.0 329.8h0M861.9 329.0h0M864.6 329.6h0M869.5 329.3h0M880.6 329.8h0M884.8 329.9h0M884.3 329.5h0M886.7 329.7h0M893.2 329.3h0M898.7 329.2h0M899.1 330.0h0M908.0 329.6h0M933.1 329.2h0M936.4 329.7h0M942.6 329.7h0M942.2 329.9h0M946.3 329.4h0M791.2 330.4h0M812.7 330.2h0M816.4 330.3h0M816.7 330.7h0M817.9 330.4h0M822.7 330.1h0M825.8 330.8h0M850.3 330.1h0M860.1 330.7h0M861.3 330.3h0M863.1 330.9h0M866.0 330.5h0M878.2 330.2h0M886.8 330.4h0M886.3 330.0h0M893.6 330.9h0M902.5 330.1h0M905.9 330.5h0M910.9 330.4h0M911.5 330.4h0M916.6 330.4h0M919.3 330.5h0M923.3 330.2h0M924.2 330.4h0M928.0 330.2h0M938.1 330.7h0M940.7 330.1h0M945.3 330.0h0M786.1 332.0h0M795.0 331.7h0M800.8 331.6h0M804.9 331.9h0M808.0 331.8h0M812.0 331.8h0M812.9 331.2h0M814.9 331.6h0M817.4 331.4h0M820.4 331.9h0M824.7 331.4h0M825.3 331.6h0M833.0 331.3h0M834.8 331.5h0M835.3 331.2h0M849.7 331.1h0M853.4 331.4h0M853.8 331.0h0M854.2 331.7h0M854.3 331.3h0M863.6 331.7h0M869.6 331.6h0M871.9 331.4h0M876.5 331.1h0M877.8 331.6h0M882.2 331.1h0M893.0 331.3h0M904.8 332.0h0M910.4 331.7h0M912.7 331.2h0M913.9 331.5h0M917.5 331.6h0M918.6 331.7h0M919.6 331.7h0M919.5 331.1h0M924.5 331.0h0M937.0 331.6h0M798.0 332.1h0M817.6 332.6h0M822.8 332.9h0M824.7 333.0h0M836.9 332.9h0M836.5 332.9h0M836.8 332.6h0M837.7 332.6h0M838.3 332.8h0M843.4 332.5h0M849.2 332.6h0M852.3 332.7h0M857.3 332.1h0M858.7 332.8h0M869.2 332.4h0M879.3 332.9h0M879.6 332.4h0M892.5 332.5h0M894.5 332.5h0M903.6 332.5h0M905.3 332.6h0M915.4 332.2h0M918.0 332.8h0M929.6 332.7h0M933.6 332.8h0M934.0 332.4h0M946.2 333.0h0M748.8 333.4h0M804.8 333.2h0M809.5 333.3h0M809.5 333.8h0M813.1 333.7h0M818.3 333.6h0M827.9 333.9h0M831.9 333.9h0M832.4 333.1h0M838.4 333.2h0M840.9 333.1h0M840.5 333.2h0M845.7 333.6h0M856.2 333.9h0M874.2 333.2h0M880.7 333.6h0M883.4 333.6h0M884.9 333.3h0M888.8 333.7h0M890.3 333.6h0M893.7 333.1h0M899.0 333.4h0M910.6 333.0h0M910.8 333.4h0M911.9 333.4h0M912.9 333.7h0M922.1 333.4h0M927.8 333.3h0M938.5 333.9h0M943.7 333.6h0M777.9 334.3h0M797.5 334.6h0M811.8 334.8h0M816.5 334.0h0M825.0 334.2h0M826.9 334.6h0M827.7 334.3h0M834.0 334.6h0M838.0 334.1h0M844.1 334.0h0M847.1 334.7h0M850.2 334.3h0M851.8 334.0h0M858.1 334.7h0M868.4 334.3h0M873.4 334.4h0M877.5 334.2h0M878.7 334.1h0M884.4 334.8h0M887.1 335.0h0M902.9 334.1h0M912.1 334.7h0M912.3 334.2h0M920.4 334.3h0M924.2 334.7h0M928.2 334.8h0M932.4 334.8h0M936.3 334.9h0M785.5 335.7h0M801.0 335.5h0M808.1 335.8h0M814.0 335.1h0M814.2 335.9h0M828.4 335.9h0M839.3 335.0h0M849.6 335.2h0M854.8 335.3h0M859.0 335.8h0M859.8 335.3h0M860.9 335.1h0M872.5 335.4h0M873.7 335.8h0M892.8 335.3h0M895.2 335.4h0M900.6 335.9h0M902.2 335.1h0M915.9 335.6h0M918.0 335.6h0M917.8 335.6h0M923.5 335.2h0M931.4 335.7h0M932.1 335.2h0M944.3 335.1h0M945.2 335.9h0M778.8 336.6h0M796.2 336.9h0M804.4 336.4h0M807.0 336.3h0M814.9 336.1h0M822.4 336.3h0M826.3 336.3h0M830.7 336.6h0M831.5 336.9h0M832.4 336.2h0M841.9 336.9h0M856.2 336.6h0M858.5 336.6h0M863.0 336.5h0M864.1 336.4h0M873.0 337.0h0M880.9 336.1h0M891.8 336.3h0M895.9 336.4h0M898.8 336.3h0M941.9 336.3h0M796.8 337.3h0M820.6 337.9h0M829.9 337.9h0M837.0 338.0h0M846.9 337.9h0M853.8 337.2h0M859.4 337.9h0M864.1 337.5h0M901.9 337.1h0M910.4 337.1h0M917.9 337.4h0M917.8 337.5h0M921.2 338.0h0M930.9 337.9h0M941.4 337.2h0M941.4 337.4h0M782.3 338.6h0M789.6 338.9h0M798.5 338.2h0M808.2 338.8h0M812.9 338.1h0M823.4 338.1h0M823.1 339.0h0M823.5 338.8h0M831.4 339.0h0M840.1 338.2h0M842.6 338.8h0M846.0 338.4h0M845.1 338.1h0M850.5 338.7h0M855.2 338.9h0M858.2 338.2h0M860.4 338.1h0M862.4 338.9h0M867.3 338.7h0M877.0 338.0h0M882.5 338.0h0M888.7 338.5h0M900.1 338.2h0M901.3 338.6h0M905.5 338.1h0M907.3 338.7h0M914.3 338.2h0M804.4 339.7h0M816.2 339.7h0M828.3 339.5h0M829.9 339.2h0M836.1 339.3h0M840.2 339.1h0M842.7 339.9h0M846.9 339.4h0M848.2 339.8h0M852.9 339.0h0M858.9 339.6h0M858.6 339.2h0M859.2 339.9h0M863.3 339.6h0M867.7 340.0h0M868.2 339.4h0M879.2 339.2h0M886.3 339.9h0M887.7 339.2h0M891.9 339.1h0M900.6 339.9h0M918.5 339.5h0M923.5 339.1h0M787.7 340.6h0M797.0 340.2h0M804.6 340.5h0M805.9 340.6h0M819.7 341.0h0M832.5 340.5h0M839.5 340.5h0M849.1 340.2h0M862.2 340.1h0M863.6 340.6h0M863.9 340.5h0M890.9 340.4h0M897.6 340.2h0M898.3 340.0h0M903.8 341.0h0M905.1 340.4h0M931.9 340.5h0M932.7 340.4h0M789.7 341.2h0M813.4 341.6h0M828.3 342.0h0M830.9 341.5h0M858.3 341.6h0M875.0 341.7h0M877.2 341.3h0M881.8 341.8h0M882.8 341.8h0M890.2 341.8h0M923.7 342.0h0M794.6 342.8h0M800.7 342.5h0M824.7 342.9h0M832.7 342.2h0M840.5 342.4h0M842.4 342.1h0M845.9 342.4h0M853.2 342.2h0M865.1 342.1h0M872.9 342.7h0M885.1 342.8h0M894.0 342.2h0M894.6 342.4h0M907.9 342.0h0M920.8 343.0h0M926.7 342.3h0M935.3 342.7h0M936.6 342.6h0M942.2 342.6h0M785.1 343.7h0M791.2 343.2h0M799.4 343.3h0M805.8 343.3h0M824.4 343.2h0M834.7 343.3h0M834.7 343.8h0M836.5 343.4h0M836.6 343.3h0M838.3 343.1h0M840.2 343.5h0M848.9 343.2h0M852.2 343.8h0M854.3 343.6h0M861.8 343.6h0M864.6 343.7h0M874.1 343.4h0M886.9 343.3h0M889.8 343.3h0M927.4 343.4h0M940.1 343.6h0M942.9 343.0h0M782.2 345.0h0M808.0 344.3h0M814.4 344.9h0M820.2 344.1h0M835.1 344.2h0M843.7 345.0h0M858.5 344.7h0M866.6 344.4h0M873.8 344.5h0M922.2 344.8h0M933.3 344.2h0M937.0 344.5h0M938.4 344.1h0M808.9 345.4h0M817.5 345.9h0M825.9 345.8h0M827.6 345.5h0M842.3 345.5h0M851.1 345.4h0M870.4 345.9h0M875.1 345.2h0M876.1 345.3h0M880.8 345.3h0M893.3 345.4h0M896.9 345.3h0M934.7 345.2h0M948.1 345.5h0M815.4 346.3h0M825.8 346.5h0M846.4 346.4h0M849.2 346.8h0M856.1 346.8h0M860.1 346.9h0M863.7 346.6h0M868.2 346.2h0M879.1 346.9h0M906.1 346.0h0M919.0 346.6h0M942.6 346.1h0M775.9 347.3h0M815.4 347.7h0M819.1 347.1h0M824.2 347.2h0M828.3 347.9h0M837.2 347.3h0M837.6 347.6h0M840.4 347.9h0M855.5 347.2h0M866.7 347.4h0M890.9 347.4h0M897.2 347.5h0M909.0 347.8h0M916.9 347.0h0M934.2 347.7h0M938.6 347.9h0M802.0 348.6h0M824.3 348.4h0M825.7 348.0h0M846.7 348.4h0M853.8 348.7h0M868.3 348.4h0M881.0 348.6h0M889.2 348.4h0M900.8 348.2h0M921.2 349.0h0M937.9 348.6h0M938.3 348.7h0M814.4 349.7h0M820.5 349.0h0M828.7 349.4h0M830.2 349.8h0M833.3 349.4h0M841.0 349.7h0M860.1 349.8h0M863.7 349.9h0M886.3 349.2h0M888.3 349.3h0M899.7 349.3h0M910.0 350.0h0M918.0 349.1h0M918.2 349.1h0M920.1 349.5h0M927.6 349.8h0M930.4 349.3h0M941.3 349.6h0M941.5 349.7h0M806.5 350.8h0M809.1 350.4h0M814.1 350.6h0M837.0 350.3h0M871.9 350.3h0M874.0 350.6h0M884.0 350.8h0M887.8 350.6h0M891.8 350.9h0M896.9 350.3h0M899.1 350.0h0M902.0 350.4h0M915.4 350.8h0M916.5 350.2h0M940.2 350.7h0M794.4 351.2h0M795.3 351.7h0M797.7 351.9h0M818.6 351.2h0M822.0 351.7h0M834.4 351.7h0M870.4 351.4h0M880.2 351.9h0M880.7 351.0h0M884.7 351.3h0M923.7 351.2h0M784.5 352.6h0M808.7 352.8h0M846.3 352.3h0M853.7 352.0h0M861.8 352.6h0M867.4 352.9h0M874.1 352.2h0M877.9 352.5h0M885.6 352.5h0M904.1 352.9h0M911.2 352.5h0M938.5 352.8h0M940.9 352.5h0M817.6 353.3h0M842.0 353.5h0M892.2 353.3h0M909.3 353.0h0M910.0 353.3h0M817.4 354.5h0M823.7 354.9h0M842.4 354.7h0M885.4 354.8h0M890.3 354.5h0M908.6 354.8h0M934.2 354.8h0M938.5 354.4h0M940.1 354.3h0M827.4 355.8h0M828.2 355.2h0M845.0 355.5h0M866.5 355.2h0M871.7 355.9h0M874.3 355.4h0M836.8 356.6h0M842.3 356.0h0M844.9 356.2h0M872.3 357.0h0M885.3 356.9h0M807.7 357.9h0M841.8 357.4h0M843.5 357.9h0M848.2 357.9h0M855.3 357.1h0M855.0 357.8h0M868.9 357.7h0M904.9 358.0h0M905.7 357.5h0M913.5 357.9h0M794.1 358.4h0M830.5 358.1h0M845.6 358.5h0M877.3 359.0h0M921.9 358.8h0M922.0 358.2h0M946.7 358.6h0M817.4 359.9h0M833.9 359.6h0M843.1 359.4h0M857.5 359.2h0M858.9 359.2h0M910.4 359.3h0M795.6 360.8h0M823.0 360.4h0M822.8 360.5h0M832.8 360.6h0M845.9 360.5h0M827.3 361.8h0M883.0 361.9h0M928.0 361.8h0M829.0 362.3h0M842.5 362.7h0M852.8 362.5h0M827.4 364.0h0M852.4 363.9h0M880.6 363.4h0M945.0 363.6h0M829.1 364.3h0M868.6 364.7h0M876.0 365.7h0M921.4 365.4h0M932.7 365.6h0M813.6 366.9h0M890.0 367.1h0M828.0 368.4h0M837.6 368.9h0M830.7 369.5h0M848.2 374.2h0M853.5 374.4h0M863.9 374.3h0M932.6 375.2h0M859.6 377.0h0M916.8 133.5h0M820.0 25.3h0M809.7 76.1h0M827.5 79.2h0M862.4 81.1h0M880.0 89.0h0M892.0 80.3h0M933.5 116.6h0M917.6 122.0h0M920.4 127.2h0M794.8 121.5h0M692.0 161.3h0M728.4 184.5h0M758.0 163.8h0M731.0 229.2h0M750.0 227.2h0M738.3 248.4h0M754.3 257.4h0M757.5 257.4h0M745.3 279.0h0M748.5 279.0h0M730.0 296.3h0M747.6 296.3h0M825.0 395.0h0M837.0 398.3h0M861.3 400.9h0M805.0 369.8h0M795.3 357.4h0M936.5 156.5h0M790.7 111.8h0M815.8 107.6h0M822.8 105.7h0M840.9 112.6h0M845.0 114.6h0M850.7 116.0h0M854.3 113.2h0M874.4 123.0h0M884.1 121.0h0" stroke="#bebebe" stroke-width="4.50" stroke-linecap="round" fill="none"/>
<path d="M981.2 251.1h0M994.5 251.7h0M971.6 259.4h0M951.2 264.5h0M989.0 264.4h0M959.5 265.1h0M976.4 267.2h0M973.5 269.0h0M975.2 268.5h0M995.8 268.1h0M999.1 268.3h0M1008.4 268.5h0M958.1 269.1h0M993.6 269.5h0M969.1 272.3h0M989.5 272.3h0M998.0 272.8h0M1005.0 272.1h0M1006.3 272.1h0M1007.3 273.8h0M968.3 274.2h0M985.5 274.9h0M1000.4 274.5h0M995.9 275.8h0M1022.4 275.2h0M964.3 276.0h0M992.7 277.0h0M1038.0 276.6h0M968.2 277.8h0M991.3 277.5h0M1005.8 277.1h0M967.7 278.0h0M982.2 278.5h0M988.7 278.5h0M1016.8 278.8h0M968.0 279.2h0M990.0 279.5h0M959.1 280.3h0M959.2 280.9h0M961.8 280.8h0M979.3 280.5h0M980.1 280.6h0M990.2 280.1h0M961.1 281.2h0M989.0 281.5h0M992.2 281.0h0M1017.3 281.9h0M1024.4 281.5h0M966.3 282.6h0M967.2 282.9h0M972.3 282.6h0M1015.1 282.2h0M1018.9 282.8h0M966.2 283.0h0M972.5 283.2h0M984.4 283.9h0M989.0 283.3h0M1016.9 283.0h0M958.1 284.3h0M958.4 284.2h0M997.7 284.7h0M1013.5 284.6h0M1017.4 284.9h0M958.6 285.4h0M958.2 285.7h0M959.1 285.8h0M961.9 285.0h0M973.1 285.1h0M975.9 285.1h0M994.1 285.1h0M1010.2 285.8h0M1027.7 285.9h0M956.5 286.8h0M959.4 286.8h0M959.7 286.7h0M964.0 286.7h0M975.3 286.6h0M988.2 286.3h0M1032.4 286.8h0M958.7 287.8h0M965.8 287.5h0M971.9 287.6h0M988.0 287.8h0M995.9 287.8h0M999.1 287.2h0M1015.1 287.2h0M952.8 289.0h0M953.9 288.1h0M955.3 288.8h0M959.6 288.1h0M964.3 288.6h0M965.1 288.5h0M967.0 288.9h0M968.8 288.8h0M975.3 289.0h0M978.1 288.7h0M992.6 288.2h0M1001.4 288.9h0M965.7 289.9h0M997.4 289.4h0M1016.0 289.2h0M971.4 290.6h0M980.1 290.2h0M953.3 291.8h0M959.5 291.0h0M960.6 291.4h0M990.7 291.7h0M991.6 291.2h0M992.1 291.5h0M1027.9 291.7h0M1046.3 291.8h0M963.8 292.5h0M968.4 292.1h0M972.6 292.4h0M974.7 292.6h0M981.2 292.4h0M963.7 293.2h0M973.8 293.1h0M974.2 293.1h0M975.3 293.9h0M976.5 293.8h0M983.8 293.6h0M984.8 293.3h0M986.6 293.6h0M989.1 294.0h0M989.8 293.6h0M1019.5 293.3h0M959.2 294.6h0M959.7 294.0h0M963.1 295.0h0M972.6 294.1h0M975.9 294.9h0M984.1 294.7h0M993.0 294.6h0M996.4 294.9h0M1015.4 294.0h0M1021.1 294.7h0M1027.9 294.5h0M952.5 295.9h0M955.2 295.9h0M962.2 295.1h0M976.2 295.8h0M1005.7 295.7h0M1020.6 295.3h0M1023.8 295.8h0M963.3 296.6h0M969.3 296.4h0M972.5 296.4h0M989.6 296.9h0M995.7 296.8h0M997.8 296.3h0M1000.7 296.5h0M1004.0 296.8h0M1004.9 296.8h0M964.2 297.8h0M987.5 298.0h0M1029.2 297.7h0M1034.5 298.0h0M956.7 299.0h0M960.7 298.2h0M961.3 298.9h0M982.8 298.7h0M992.6 298.2h0M999.9 298.6h0M1003.7 298.8h0M1004.3 298.4h0M983.0 299.7h0M985.4 299.3h0M993.2 299.6h0M1013.3 300.0h0M961.0 300.3h0M965.8 300.6h0M995.4 300.7h0M963.8 301.5h0M967.8 301.0h0M970.0 301.1h0M972.8 301.8h0M981.0 302.0h0M983.9 301.9h0M1003.7 301.8h0M1020.3 301.3h0M1032.9 301.8h0M970.4 302.5h0M974.5 302.5h0M977.8 302.2h0M983.3 302.8h0M988.2 302.9h0M989.8 302.2h0M996.8 302.0h0M1004.3 302.5h0M1033.4 302.8h0M966.6 304.0h0M982.1 303.1h0M996.5 303.6h0M997.1 303.1h0M1000.0 303.7h0M958.2 304.7h0M976.3 304.8h0M977.6 304.1h0M981.8 304.7h0M990.5 304.1h0M1035.4 304.2h0M960.2 305.7h0M973.3 305.4h0M986.7 305.7h0M988.6 305.1h0M990.0 305.4h0M993.6 305.5h0M998.0 305.0h0M963.3 306.8h0M966.5 306.8h0M977.4 307.0h0M983.1 306.4h0M993.0 306.8h0M998.2 306.3h0M1024.4 306.7h0M956.2 307.4h0M958.5 307.1h0M959.2 307.8h0M964.0 307.5h0M968.9 307.3h0M977.6 307.2h0M991.9 307.5h0M993.5 307.2h0M995.2 307.1h0M997.6 307.0h0M1025.3 307.8h0M961.1 308.6h0M962.2 308.1h0M994.1 308.7h0M1008.8 308.5h0M954.5 309.6h0M965.1 309.7h0M967.4 309.3h0M973.9 309.7h0M978.8 309.7h0M991.0 309.5h0M1015.9 309.2h0M1022.9 309.9h0M1057.2 309.8h0M953.0 310.3h0M958.5 310.2h0M962.0 310.2h0M977.7 310.2h0M982.3 310.0h0M960.8 311.4h0M960.7 311.0h0M961.1 311.4h0M962.1 311.1h0M994.2 311.9h0M1001.1 311.3h0M1036.7 311.6h0M955.4 312.6h0M957.2 312.3h0M965.9 312.9h0M969.0 313.0h0M974.0 312.2h0M979.5 312.4h0M987.7 312.2h0M994.2 312.5h0M997.6 312.7h0M999.9 312.7h0M999.6 312.4h0M1006.4 312.8h0M1044.6 312.1h0M960.8 313.5h0M1013.6 313.8h0M952.0 314.7h0M955.8 314.8h0M961.8 314.7h0M969.5 314.9h0M975.1 314.6h0M996.8 314.3h0M1004.9 314.1h0M952.2 315.4h0M954.0 315.1h0M954.5 315.7h0M959.4 315.0h0M960.2 315.5h0M968.4 315.2h0M968.2 315.6h0M970.5 315.4h0M971.8 315.2h0M985.0 315.0h0M991.7 315.9h0M998.6 315.5h0M1004.8 315.8h0M1015.9 315.2h0M1031.8 315.1h0M951.7 316.5h0M956.2 316.7h0M958.1 316.3h0M962.8 316.2h0M963.9 316.8h0M966.6 316.5h0M983.7 316.8h0M989.6 316.0h0M1006.9 316.0h0M1017.2 316.9h0M1024.6 316.7h0M966.4 317.5h0M976.3 317.6h0M989.9 317.7h0M996.5 317.3h0M1028.5 317.2h0M1030.9 317.4h0M953.1 318.7h0M954.0 318.9h0M970.6 318.8h0M978.4 318.5h0M960.4 319.4h0M963.3 319.2h0M975.6 319.5h0M982.0 319.8h0M983.4 319.9h0M956.6 320.4h0M958.5 320.2h0M959.7 320.9h0M975.8 320.0h0M1024.9 321.0h0M952.2 321.4h0M960.9 321.3h0M974.0 321.1h0M976.1 321.4h0M1001.6 321.8h0M1016.2 321.1h0M1055.2 321.4h0M977.9 322.3h0M988.1 322.8h0M990.8 322.2h0M997.8 322.3h0M957.2 323.1h0M960.5 323.2h0M960.5 323.4h0M968.3 323.7h0M968.2 323.6h0M969.2 323.7h0M974.7 323.4h0M997.7 323.7h0M1001.2 323.4h0M952.0 324.3h0M953.9 324.7h0M968.8 324.4h0M970.5 324.8h0M1003.9 324.5h0M1031.9 324.8h0M953.8 325.5h0M954.4 325.5h0M963.7 325.3h0M985.1 325.3h0M958.6 326.2h0M962.4 326.2h0M959.7 328.6h0M965.8 328.2h0M977.4 328.5h0M1004.5 330.8h0M961.4 331.4h0M977.9 332.3h0M968.9 336.8h0M974.2 168.6h0M983.8 188.0h0M999.0 182.0h0M956.0 212.0h0M959.0 228.6h0M967.0 225.8h0M956.7 233.0h0M987.8 241.8h0M1017.7 233.8h0M1020.9 231.8h0M1011.7 243.7h0M960.7 253.7h0M1066.7 278.8h0M964.0 343.0h0M987.8 339.4h0M955.7 212.7h0M953.0 228.7h0M958.6 227.0h0M967.5 225.5h0M957.3 236.7h0M960.5 249.4h0M962.0 252.6h0M987.6 241.4h0M954.7 121.6h0M1011.7 330.6h0M1005.0 329.4h0" stroke="#3f8c47" stroke-width="4.50" stroke-linecap="round" fill="none"/>
<rect x="77.00" y="5.40" width="2.10" height="416.30" fill="#000"/>
<rect x="77.00" y="5.40" width="416.30" height="2.00" fill="#000"/>
<rect x="491.30" y="5.40" width="2.10" height="416.30" fill="#000"/>
<rect x="77.00" y="419.90" width="416.40" height="1.90" fill="#000"/>
<rect x="672.60" y="6.10" width="2.20" height="414.00" fill="#000"/>
<rect x="672.60" y="6.10" width="414.40" height="2.00" fill="#000"/>
<rect x="1085.00" y="6.10" width="2.00" height="414.00" fill="#000"/>
<rect x="672.60" y="418.20" width="414.40" height="1.90" fill="#000"/>
<rect x="85.10" y="421.50" width="2.20" height="7.10" fill="#000"/>
<rect x="177.40" y="421.50" width="2.20" height="7.10" fill="#000"/>
<rect x="269.70" y="421.50" width="2.20" height="7.10" fill="#000"/>
<rect x="362.00" y="421.50" width="2.20" height="7.10" fill="#000"/>
<rect x="454.30" y="421.50" width="2.20" height="7.10" fill="#000"/>
<rect x="68.60" y="353.00" width="9.00" height="2.20" fill="#000"/>
<rect x="68.60" y="279.40" width="9.00" height="2.20" fill="#000"/>
<rect x="68.60" y="205.80" width="9.00" height="2.20" fill="#000"/>
<rect x="68.60" y="132.20" width="9.00" height="2.20" fill="#000"/>
<rect x="68.60" y="58.60" width="9.00" height="2.20" fill="#000"/>
<rect x="679.90" y="419.90" width="2.20" height="8.30" fill="#000"/>
<rect x="772.15" y="419.90" width="2.20" height="8.30" fill="#000"/>
<rect x="864.40" y="419.90" width="2.20" height="8.30" fill="#000"/>
<rect x="956.65" y="419.90" width="2.20" height="8.30" fill="#000"/>
<rect x="1048.90" y="419.90" width="2.20" height="8.30" fill="#000"/>
<rect x="664.30" y="18.50" width="8.60" height="2.20" fill="#000"/>
<rect x="664.30" y="115.14" width="8.60" height="2.20" fill="#000"/>
<rect x="664.30" y="211.77" width="8.60" height="2.20" fill="#000"/>
<rect x="664.30" y="308.41" width="8.60" height="2.20" fill="#000"/>
<rect x="664.30" y="405.04" width="8.60" height="2.20" fill="#000"/>
<text x="49.01" y="358.40" font-size="21" textLength="12.61" lengthAdjust="spacingAndGlyphs" fill="#000">0</text>
<text x="49.23" y="284.80" font-size="21" textLength="12.61" lengthAdjust="spacingAndGlyphs" fill="#000">1</text>
<text x="49.23" y="211.20" font-size="21" textLength="12.61" lengthAdjust="spacingAndGlyphs" fill="#000">2</text>
<text x="49.23" y="137.60" font-size="21" textLength="12.61" lengthAdjust="spacingAndGlyphs" fill="#000">3</text>
<text x="48.78" y="64.00" font-size="21" textLength="12.61" lengthAdjust="spacingAndGlyphs" fill="#000">4</text>
<text x="75.89" y="451.50" font-size="21" textLength="19.79" lengthAdjust="spacingAndGlyphs" fill="#000">-5</text>
<text x="158.85" y="451.50" font-size="21" textLength="38.35" lengthAdjust="spacingAndGlyphs" fill="#000">-2.5</text>
<text x="264.17" y="451.50" font-size="21" textLength="12.38" lengthAdjust="spacingAndGlyphs" fill="#000">0</text>
<text x="347.12" y="451.50" font-size="21" textLength="30.94" lengthAdjust="spacingAndGlyphs" fill="#000">2.5</text>
<text x="448.77" y="451.50" font-size="21" textLength="12.38" lengthAdjust="spacingAndGlyphs" fill="#000">5</text>
<text x="634.06" y="28.20" font-size="21" textLength="24.76" lengthAdjust="spacingAndGlyphs" fill="#000">15</text>
<text x="634.06" y="124.84" font-size="21" textLength="24.76" lengthAdjust="spacingAndGlyphs" fill="#000">10</text>
<text x="646.52" y="221.47" font-size="21" textLength="12.38" lengthAdjust="spacingAndGlyphs" fill="#000">5</text>
<text x="646.52" y="318.11" font-size="21" textLength="12.38" lengthAdjust="spacingAndGlyphs" fill="#000">0</text>
<text x="639.18" y="414.74" font-size="21" textLength="19.79" lengthAdjust="spacingAndGlyphs" fill="#000">-5</text>
<text x="670.69" y="449.50" font-size="21" textLength="19.79" lengthAdjust="spacingAndGlyphs" fill="#000">-5</text>
<text x="753.60" y="449.50" font-size="21" textLength="38.35" lengthAdjust="spacingAndGlyphs" fill="#000">-2.5</text>
<text x="858.87" y="449.50" font-size="21" textLength="12.38" lengthAdjust="spacingAndGlyphs" fill="#000">0</text>
<text x="941.77" y="449.50" font-size="21" textLength="30.94" lengthAdjust="spacingAndGlyphs" fill="#000">2.5</text>
<text x="1043.37" y="449.50" font-size="21" textLength="12.38" lengthAdjust="spacingAndGlyphs" fill="#000">5</text>
<text x="143.95" y="492.00" font-size="30" textLength="37.25" lengthAdjust="spacingAndGlyphs" fill="#000">log</text>
<text x="181.25" y="504.80" font-size="17" textLength="10.52" lengthAdjust="spacingAndGlyphs" fill="#000">2</text>
<text x="199.58" y="492.00" font-size="30" textLength="7.30" lengthAdjust="spacingAndGlyphs" fill="#000">(</text>
<text x="214.43" y="492.00" font-size="30" textLength="59.86" lengthAdjust="spacingAndGlyphs" fill="#000">TPM</text>
<text x="273.97" y="482.50" font-size="17" textLength="14.00" lengthAdjust="spacingAndGlyphs" fill="#000">IP</text>
<text x="295.90" y="492.00" font-size="30" textLength="9.53" lengthAdjust="spacingAndGlyphs" fill="#000">/</text>
<text x="313.93" y="492.00" font-size="30" textLength="60.07" lengthAdjust="spacingAndGlyphs" fill="#000">TPM</text>
<text x="372.45" y="482.30" font-size="17" textLength="35.69" lengthAdjust="spacingAndGlyphs" fill="#000">input</text>
<text x="412.99" y="492.00" font-size="30" textLength="7.04" lengthAdjust="spacingAndGlyphs" fill="#000">)</text>
<text x="737.05" y="489.70" font-size="30" textLength="37.25" lengthAdjust="spacingAndGlyphs" fill="#000">log</text>
<text x="774.35" y="502.50" font-size="17" textLength="10.52" lengthAdjust="spacingAndGlyphs" fill="#000">2</text>
<text x="792.68" y="489.70" font-size="30" textLength="7.30" lengthAdjust="spacingAndGlyphs" fill="#000">(</text>
<text x="807.53" y="489.70" font-size="30" textLength="59.86" lengthAdjust="spacingAndGlyphs" fill="#000">TPM</text>
<text x="867.07" y="480.20" font-size="17" textLength="14.00" lengthAdjust="spacingAndGlyphs" fill="#000">IP</text>
<text x="889.00" y="489.70" font-size="30" textLength="9.53" lengthAdjust="spacingAndGlyphs" fill="#000">/</text>
<text x="907.03" y="489.70" font-size="30" textLength="60.07" lengthAdjust="spacingAndGlyphs" fill="#000">TPM</text>
<text x="965.55" y="480.00" font-size="17" textLength="35.69" lengthAdjust="spacingAndGlyphs" fill="#000">input</text>
<text x="1006.09" y="489.70" font-size="30" textLength="7.04" lengthAdjust="spacingAndGlyphs" fill="#000">)</text>
<g transform="rotate(-90)"><text x="-289.63" y="25.00" font-size="30" textLength="38.70" lengthAdjust="spacingAndGlyphs" fill="#000">log</text><text x="-252.04" y="34.40" font-size="17" textLength="18.68" lengthAdjust="spacingAndGlyphs" fill="#000">10</text><text x="-233.40" y="25.00" font-size="30" textLength="8.32" lengthAdjust="spacingAndGlyphs" fill="#000">(</text><text x="-225.05" y="25.00" font-size="30" textLength="58.28" lengthAdjust="spacingAndGlyphs" fill="#000">TPM</text><text x="-168.08" y="17.50" font-size="17" textLength="33.51" lengthAdjust="spacingAndGlyphs" fill="#000">input</text><text x="-132.83" y="25.00" font-size="30" textLength="11.14" lengthAdjust="spacingAndGlyphs" fill="#000">)</text></g>
<g transform="rotate(-90)"><text x="-363.85" y="578.60" font-size="30" textLength="279.91" lengthAdjust="spacingAndGlyphs" fill="#000">stressed v. unstressed</text><text x="-329.36" y="612.50" font-size="30" textLength="39.25" lengthAdjust="spacingAndGlyphs" fill="#000">log</text><text x="-290.42" y="622.00" font-size="17" textLength="10.28" lengthAdjust="spacingAndGlyphs" fill="#000">2</text><text x="-280.66" y="612.50" font-size="30" textLength="161.19" lengthAdjust="spacingAndGlyphs" fill="#000">(fold change)</text></g>
<text x="-1.10" y="33.40" font-size="50" font-weight="bold" textLength="25.92" lengthAdjust="spacingAndGlyphs" fill="#000">a</text>
<text x="553.71" y="36.30" font-size="50" font-weight="bold" textLength="33.10" lengthAdjust="spacingAndGlyphs" fill="#000">b</text>
<text x="114.25" y="34.60" font-size="20.8" textLength="51.57" lengthAdjust="spacingAndGlyphs" fill="#000">BAG1</text>
<text x="225.96" y="39.00" font-size="20.8" textLength="52.39" lengthAdjust="spacingAndGlyphs" fill="#000">LDH2</text>
<text x="114.27" y="77.60" font-size="20.8" textLength="51.95" lengthAdjust="spacingAndGlyphs" fill="#000">ENO1</text>
<text x="333.03" y="69.10" font-size="20.8" textLength="49.67" lengthAdjust="spacingAndGlyphs" fill="#000">CST1</text>
<text x="282.30" y="113.30" font-size="20.8" textLength="51.23" lengthAdjust="spacingAndGlyphs" fill="#000">BFD2</text>
<text x="432.69" y="205.80" font-size="20.8" textLength="48.18" lengthAdjust="spacingAndGlyphs" fill="#000">BFD1</text>
<text x="243.50" y="299.00" font-size="20.8" textLength="51.45" lengthAdjust="spacingAndGlyphs" fill="#000">ASP5</text>
<text x="279.48" y="341.60" font-size="20.8" textLength="70.55" lengthAdjust="spacingAndGlyphs" fill="#000">GCN5B</text>
<text x="709.37" y="54.00" font-size="20.8" textLength="52.16" lengthAdjust="spacingAndGlyphs" fill="#000">ENO1</text>
<text x="801.48" y="42.30" font-size="20.8" textLength="51.76" lengthAdjust="spacingAndGlyphs" fill="#000">LDH2</text>
<text x="701.95" y="111.20" font-size="20.8" textLength="51.68" lengthAdjust="spacingAndGlyphs" fill="#000">BAG1</text>
<text x="958.73" y="99.30" font-size="20.8" textLength="49.36" lengthAdjust="spacingAndGlyphs" fill="#000">CST1</text>
<text x="910.69" y="198.90" font-size="20.8" textLength="51.33" lengthAdjust="spacingAndGlyphs" fill="#000">BFD2</text>
<text x="1028.84" y="253.80" font-size="20.8" textLength="49.86" lengthAdjust="spacingAndGlyphs" fill="#000">BFD1</text>
<text x="856.00" y="357.40" font-size="20.8" textLength="49.72" lengthAdjust="spacingAndGlyphs" fill="#000">ASP5</text>
<text x="884.76" y="390.00" font-size="20.8" textLength="71.68" lengthAdjust="spacingAndGlyphs" fill="#000">GCN5B</text>
<line x1="171.3" y1="28.8" x2="198.6" y2="33.7" stroke="#000" stroke-width="1.45"/>
<line x1="259.0" y1="46.4" x2="266.7" y2="83.5" stroke="#000" stroke-width="1.45"/>
<line x1="176.2" y1="73.6" x2="213.3" y2="88.3" stroke="#000" stroke-width="1.45"/>
<line x1="358.9" y1="73.5" x2="341.2" y2="118.9" stroke="#000" stroke-width="1.45"/>
<line x1="304.2" y1="116.5" x2="300.6" y2="151.1" stroke="#000" stroke-width="1.45"/>
<line x1="454.7" y1="209.4" x2="419.4" y2="261.2" stroke="#000" stroke-width="1.45"/>
<line x1="304.6" y1="233.0" x2="290.8" y2="275.7" stroke="#000" stroke-width="1.45"/>
<line x1="312.3" y1="256.8" x2="320.6" y2="317.9" stroke="#000" stroke-width="1.45"/>
<line x1="765.3" y1="48.9" x2="809.1" y2="74.2" stroke="#000" stroke-width="1.45"/>
<line x1="837.7" y1="47.9" x2="861.6" y2="79.7" stroke="#000" stroke-width="1.45"/>
<line x1="756.8" y1="106.3" x2="794.8" y2="120.8" stroke="#000" stroke-width="1.45"/>
<line x1="982.0" y1="104.0" x2="936.0" y2="155.1" stroke="#000" stroke-width="1.45"/>
<line x1="932.6" y1="205.9" x2="895.8" y2="257.8" stroke="#000" stroke-width="1.45"/>
<line x1="1036.4" y1="260.6" x2="1014.1" y2="293.6" stroke="#000" stroke-width="1.45"/>
<line x1="894.6" y1="337.5" x2="899.0" y2="299.6" stroke="#000" stroke-width="1.45"/>
<line x1="916.9" y1="364.1" x2="907.7" y2="315.5" stroke="#000" stroke-width="1.45"/>
</svg></body></html>
